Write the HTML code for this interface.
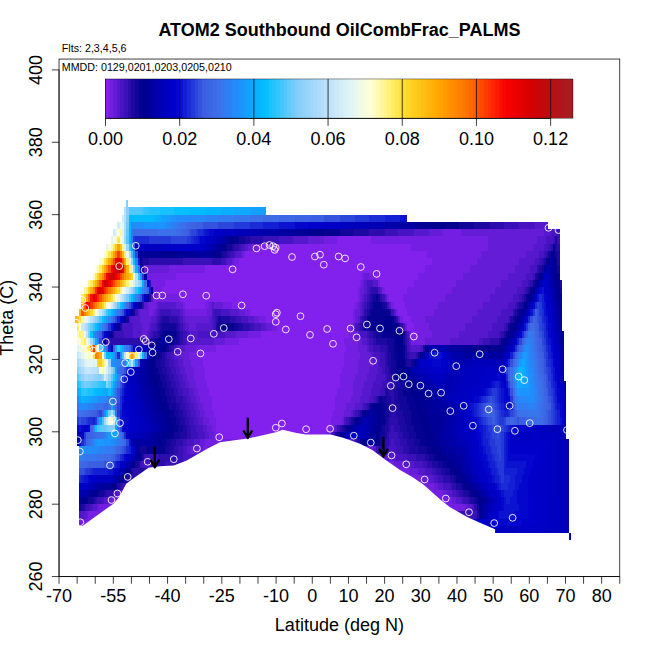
<!DOCTYPE html><html><head><meta charset="utf-8"><style>
html,body{margin:0;padding:0;background:#fff}
svg{display:block}
text{font-family:"Liberation Sans",sans-serif;fill:#000}
</style></head><body>
<svg width="650" height="650" viewBox="0 0 650 650">
<rect width="650" height="650" fill="#fff"/>
<g shape-rendering="crispEdges">
<path fill="#120599" d="M326.1 525.9H346.3V533.1H326.1ZM245.3 518.7H267.8V525.9H245.3ZM79.2 504.2H81.4V511.4H79.2ZM476.6 504.2H478.8V511.4H476.6ZM88.2 496.9H92.7V504.2H88.2ZM474.3 496.9H476.6V504.2H474.3ZM99.4 489.7H103.9V496.9H99.4ZM467.6 489.7H469.8V496.9H467.6ZM460.8 482.5H463.1V489.7H460.8ZM124.1 475.2H126.3V482.5H124.1ZM454.1 475.2H456.4V482.5H454.1ZM445.1 468.0H449.6V475.2H445.1ZM135.3 460.8H137.6V468.0H135.3ZM438.4 460.8H442.9V468.0H438.4ZM429.4 453.5H433.9V460.8H429.4ZM139.8 446.3H146.5V453.5H139.8ZM164.5 446.3H169.0V453.5H164.5ZM418.2 446.3H427.2V453.5H418.2ZM166.7 439.0H171.2V446.3H166.7ZM380.0 439.0H382.3V446.3H380.0ZM413.7 439.0H420.4V446.3H413.7ZM173.5 431.8H180.2V439.0H173.5ZM337.4 431.8H339.6V439.0H337.4ZM380.0 431.8H384.5V439.0H380.0ZM409.2 431.8H415.9V439.0H409.2ZM178.0 424.6H182.5V431.8H178.0ZM344.1 424.6H346.3V431.8H344.1ZM382.3 424.6H384.5V431.8H382.3ZM407.0 424.6H413.7V431.8H407.0ZM175.7 417.3H180.2V424.6H175.7ZM353.1 417.3H355.3V424.6H353.1ZM384.5 417.3H386.8V424.6H384.5ZM404.7 417.3H411.4V424.6H404.7ZM173.5 410.1H178.0V417.3H173.5ZM384.5 410.1H389.0V417.3H384.5ZM402.5 410.1H411.4V417.3H402.5ZM169.0 402.8H175.7V410.1H169.0ZM368.8 402.8H371.0V410.1H368.8ZM384.5 402.8H389.0V410.1H384.5ZM400.2 402.8H409.2V410.1H400.2ZM166.7 395.6H171.2V402.8H166.7ZM377.8 395.6H380.0V402.8H377.8ZM382.3 395.6H386.8V402.8H382.3ZM398.0 395.6H407.0V402.8H398.0ZM164.5 388.4H169.0V395.6H164.5ZM398.0 388.4H402.5V395.6H398.0ZM162.3 381.1H166.7V388.4H162.3ZM400.2 381.1H404.7V388.4H400.2ZM160.0 373.9H164.5V381.1H160.0ZM393.5 373.9H395.7V381.1H393.5ZM157.8 366.7H162.3V373.9H157.8ZM391.2 366.7H395.7V373.9H391.2ZM155.5 359.4H160.0V366.7H155.5ZM391.2 359.4H395.7V366.7H391.2ZM404.7 359.4H407.0V366.7H404.7ZM411.4 359.4H413.7V366.7H411.4ZM160.0 352.2H162.3V359.4H160.0ZM391.2 352.2H393.5V359.4H391.2ZM418.2 352.2H420.4V359.4H418.2ZM166.7 344.9H169.0V352.2H166.7ZM389.0 344.9H393.5V352.2H389.0ZM476.6 344.9H478.8V352.2H476.6ZM153.3 337.7H155.5V344.9H153.3ZM173.5 337.7H178.0V344.9H173.5ZM386.8 337.7H393.5V344.9H386.8ZM402.5 337.7H404.7V344.9H402.5ZM160.0 330.5H162.3V337.7H160.0ZM175.7 330.5H178.0V337.7H175.7ZM375.5 330.5H382.3V337.7H375.5ZM402.5 330.5H404.7V337.7H402.5ZM162.3 323.2H175.7V330.5H162.3ZM218.4 323.2H220.6V330.5H218.4ZM234.1 323.2H238.6V330.5H234.1ZM364.3 323.2H368.8V330.5H364.3ZM398.0 323.2H400.2V330.5H398.0ZM508.0 323.2H510.2V330.5H508.0ZM126.3 316.0H128.6V323.2H126.3ZM218.4 316.0H220.6V323.2H218.4ZM393.5 316.0H395.7V323.2H393.5ZM512.5 316.0H514.7V323.2H512.5ZM133.1 308.8H135.3V316.0H133.1ZM368.8 308.8H371.0V316.0H368.8ZM389.0 308.8H391.2V316.0H389.0ZM517.0 308.8H519.2V316.0H517.0ZM371.0 301.5H373.3V308.8H371.0ZM382.3 301.5H384.5V308.8H382.3ZM521.5 301.5H523.7V308.8H521.5ZM373.3 294.3H375.5V301.5H373.3ZM377.8 294.3H380.0V301.5H377.8ZM559.6 287.0H561.9V294.3H559.6ZM532.7 279.8H534.9V287.0H532.7ZM537.2 272.6H539.4V279.8H537.2ZM541.7 265.3H543.9V272.6H541.7ZM557.4 265.3H559.6V272.6H557.4ZM220.6 250.8H222.9V258.1H220.6ZM548.4 250.8H550.6V258.1H548.4ZM555.1 250.8H557.4V258.1H555.1ZM227.4 243.6H231.9V250.8H227.4ZM238.6 236.4H245.3V243.6H238.6ZM339.6 229.1H353.1V236.4H339.6ZM458.6 221.9H474.3V229.1H458.6Z"/>
<path fill="#060290" d="M346.3 525.9H366.6V533.1H346.3ZM267.8 518.7H292.5V525.9H267.8ZM478.8 511.4H481.0V518.7H478.8ZM85.9 496.9H88.2V504.2H85.9ZM476.6 496.9H478.8V504.2H476.6ZM97.2 489.7H99.4V496.9H97.2ZM469.8 489.7H474.3V496.9H469.8ZM115.1 482.5H117.4V489.7H115.1ZM463.1 482.5H467.6V489.7H463.1ZM121.8 475.2H124.1V482.5H121.8ZM456.4 475.2H460.8V482.5H456.4ZM128.6 468.0H130.8V475.2H128.6ZM449.6 468.0H454.1V475.2H449.6ZM442.9 460.8H447.4V468.0H442.9ZM139.8 453.5H142.1V460.8H139.8ZM433.9 453.5H438.4V460.8H433.9ZM137.6 446.3H139.8V453.5H137.6ZM146.5 446.3H164.5V453.5H146.5ZM427.2 446.3H431.7V453.5H427.2ZM162.3 439.0H166.7V446.3H162.3ZM359.8 439.0H362.1V446.3H359.8ZM375.5 439.0H380.0V446.3H375.5ZM420.4 439.0H427.2V446.3H420.4ZM169.0 431.8H173.5V439.0H169.0ZM377.8 431.8H380.0V439.0H377.8ZM415.9 431.8H424.9V439.0H415.9ZM173.5 424.6H178.0V431.8H173.5ZM346.3 424.6H348.6V431.8H346.3ZM380.0 424.6H382.3V431.8H380.0ZM413.7 424.6H422.7V431.8H413.7ZM171.2 417.3H175.7V424.6H171.2ZM380.0 417.3H384.5V424.6H380.0ZM411.4 417.3H420.4V424.6H411.4ZM169.0 410.1H173.5V417.3H169.0ZM362.1 410.1H364.3V417.3H362.1ZM382.3 410.1H384.5V417.3H382.3ZM411.4 410.1H418.2V417.3H411.4ZM164.5 402.8H169.0V410.1H164.5ZM371.0 402.8H373.3V410.1H371.0ZM380.0 402.8H384.5V410.1H380.0ZM409.2 402.8H415.9V410.1H409.2ZM162.3 395.6H166.7V402.8H162.3ZM380.0 395.6H382.3V402.8H380.0ZM407.0 395.6H413.7V402.8H407.0ZM160.0 388.4H164.5V395.6H160.0ZM402.5 388.4H411.4V395.6H402.5ZM157.8 381.1H162.3V388.4H157.8ZM404.7 381.1H409.2V388.4H404.7ZM155.5 373.9H160.0V381.1H155.5ZM395.7 373.9H400.2V381.1H395.7ZM153.3 366.7H157.8V373.9H153.3ZM395.7 366.7H398.0V373.9H395.7ZM404.7 366.7H407.0V373.9H404.7ZM153.3 359.4H155.5V366.7H153.3ZM395.7 359.4H398.0V366.7H395.7ZM157.8 352.2H160.0V359.4H157.8ZM393.5 352.2H398.0V359.4H393.5ZM402.5 352.2H404.7V359.4H402.5ZM164.5 344.9H166.7V352.2H164.5ZM393.5 344.9H398.0V352.2H393.5ZM402.5 344.9H404.7V352.2H402.5ZM424.9 344.9H427.2V352.2H424.9ZM478.8 344.9H485.5V352.2H478.8ZM490.0 344.9H499.0V352.2H490.0ZM103.9 337.7H106.1V344.9H103.9ZM155.5 337.7H157.8V344.9H155.5ZM171.2 337.7H173.5V344.9H171.2ZM393.5 337.7H395.7V344.9H393.5ZM501.2 337.7H503.5V344.9H501.2ZM110.6 330.5H112.9V337.7H110.6ZM162.3 330.5H164.5V337.7H162.3ZM171.2 330.5H175.7V337.7H171.2ZM382.3 330.5H395.7V337.7H382.3ZM400.2 330.5H402.5V337.7H400.2ZM505.7 330.5H508.0V337.7H505.7ZM220.6 323.2H222.9V330.5H220.6ZM227.4 323.2H234.1V330.5H227.4ZM368.8 323.2H380.0V330.5H368.8ZM510.2 323.2H512.5V330.5H510.2ZM366.6 316.0H384.5V323.2H366.6ZM514.7 316.0H517.0V323.2H514.7ZM371.0 308.8H389.0V316.0H371.0ZM519.2 308.8H521.5V316.0H519.2ZM139.8 301.5H142.1V308.8H139.8ZM373.3 301.5H382.3V308.8H373.3ZM559.6 301.5H561.9V308.8H559.6ZM375.5 294.3H377.8V301.5H375.5ZM525.9 294.3H528.2V301.5H525.9ZM559.6 294.3H561.9V301.5H559.6ZM530.4 287.0H532.7V294.3H530.4ZM534.9 279.8H537.2V287.0H534.9ZM557.4 279.8H559.6V287.0H557.4ZM557.4 272.6H559.6V279.8H557.4ZM555.1 265.3H557.4V272.6H555.1ZM546.2 258.1H548.4V265.3H546.2ZM555.1 258.1H557.4V265.3H555.1ZM216.1 250.8H220.6V258.1H216.1ZM225.1 243.6H227.4V250.8H225.1ZM552.9 243.6H555.1V250.8H552.9ZM234.1 236.4H238.6V243.6H234.1ZM323.9 229.1H339.6V236.4H323.9ZM445.1 221.9H458.6V229.1H445.1Z"/>
<path fill="#00008f" d="M366.6 525.9H389.0V533.1H366.6ZM292.5 518.7H314.9V525.9H292.5ZM478.8 504.2H481.0V511.4H478.8ZM81.4 496.9H85.9V504.2H81.4ZM478.8 496.9H483.3V504.2H478.8ZM92.7 489.7H97.2V496.9H92.7ZM474.3 489.7H476.6V496.9H474.3ZM110.6 482.5H115.1V489.7H110.6ZM467.6 482.5H469.8V489.7H467.6ZM119.6 475.2H121.8V482.5H119.6ZM460.8 475.2H463.1V482.5H460.8ZM126.3 468.0H128.6V475.2H126.3ZM454.1 468.0H458.6V475.2H454.1ZM133.1 460.8H135.3V468.0H133.1ZM447.4 460.8H454.1V468.0H447.4ZM438.4 453.5H447.4V460.8H438.4ZM431.7 446.3H440.6V453.5H431.7ZM157.8 439.0H162.3V446.3H157.8ZM362.1 439.0H364.3V446.3H362.1ZM373.3 439.0H375.5V446.3H373.3ZM427.2 439.0H433.9V446.3H427.2ZM162.3 431.8H169.0V439.0H162.3ZM339.6 431.8H341.9V439.0H339.6ZM375.5 431.8H377.8V439.0H375.5ZM424.9 431.8H433.9V439.0H424.9ZM169.0 424.6H173.5V431.8H169.0ZM375.5 424.6H380.0V431.8H375.5ZM422.7 424.6H431.7V431.8H422.7ZM166.7 417.3H171.2V424.6H166.7ZM355.3 417.3H357.6V424.6H355.3ZM377.8 417.3H380.0V424.6H377.8ZM420.4 417.3H429.4V424.6H420.4ZM164.5 410.1H169.0V417.3H164.5ZM364.3 410.1H366.6V417.3H364.3ZM377.8 410.1H382.3V417.3H377.8ZM418.2 410.1H427.2V417.3H418.2ZM160.0 402.8H164.5V410.1H160.0ZM373.3 402.8H380.0V410.1H373.3ZM415.9 402.8H424.9V410.1H415.9ZM157.8 395.6H162.3V402.8H157.8ZM413.7 395.6H422.7V402.8H413.7ZM155.5 388.4H160.0V395.6H155.5ZM411.4 388.4H420.4V395.6H411.4ZM153.3 381.1H157.8V388.4H153.3ZM409.2 381.1H413.7V388.4H409.2ZM151.0 373.9H155.5V381.1H151.0ZM400.2 373.9H404.7V381.1H400.2ZM148.8 366.7H153.3V373.9H148.8ZM398.0 366.7H404.7V373.9H398.0ZM407.0 366.7H409.2V373.9H407.0ZM148.8 359.4H153.3V366.7H148.8ZM398.0 359.4H404.7V366.7H398.0ZM413.7 359.4H415.9V366.7H413.7ZM155.5 352.2H157.8V359.4H155.5ZM398.0 352.2H402.5V359.4H398.0ZM162.3 344.9H164.5V352.2H162.3ZM398.0 344.9H402.5V352.2H398.0ZM474.3 344.9H476.6V352.2H474.3ZM485.5 344.9H490.0V352.2H485.5ZM499.0 344.9H501.2V352.2H499.0ZM157.8 337.7H160.0V344.9H157.8ZM169.0 337.7H171.2V344.9H169.0ZM395.7 337.7H402.5V344.9H395.7ZM503.5 337.7H505.7V344.9H503.5ZM561.9 337.7H564.1V344.9H561.9ZM164.5 330.5H171.2V337.7H164.5ZM395.7 330.5H400.2V337.7H395.7ZM508.0 330.5H510.2V337.7H508.0ZM561.9 330.5H564.1V337.7H561.9ZM117.4 323.2H119.6V330.5H117.4ZM222.9 323.2H227.4V330.5H222.9ZM380.0 323.2H398.0V330.5H380.0ZM512.5 323.2H514.7V330.5H512.5ZM384.5 316.0H393.5V323.2H384.5ZM517.0 316.0H519.2V323.2H517.0ZM559.6 308.8H561.9V316.0H559.6ZM523.7 301.5H525.9V308.8H523.7ZM528.2 294.3H530.4V301.5H528.2ZM557.4 294.3H559.6V301.5H557.4ZM532.7 287.0H534.9V294.3H532.7ZM557.4 287.0H559.6V294.3H557.4ZM539.4 272.6H541.7V279.8H539.4ZM555.1 272.6H557.4V279.8H555.1ZM139.8 258.1H142.1V265.3H139.8ZM552.9 258.1H555.1V265.3H552.9ZM162.3 250.8H178.0V258.1H162.3ZM213.9 250.8H216.1V258.1H213.9ZM552.9 250.8H555.1V258.1H552.9ZM222.9 243.6H225.1V250.8H222.9ZM229.6 236.4H234.1V243.6H229.6ZM308.2 229.1H323.9V236.4H308.2ZM429.4 221.9H445.1V229.1H429.4Z"/>
<path fill="#000098" d="M389.0 525.9H409.2V533.1H389.0ZM314.9 518.7H339.6V525.9H314.9ZM481.0 511.4H483.3V518.7H481.0ZM481.0 504.2H483.3V511.4H481.0ZM79.2 496.9H81.4V504.2H79.2ZM483.3 496.9H485.5V504.2H483.3ZM90.4 489.7H92.7V496.9H90.4ZM476.6 489.7H478.8V496.9H476.6ZM101.6 482.5H110.6V489.7H101.6ZM469.8 482.5H474.3V489.7H469.8ZM463.1 475.2H467.6V482.5H463.1ZM458.6 468.0H460.8V475.2H458.6ZM130.8 460.8H133.1V468.0H130.8ZM454.1 460.8H460.8V468.0H454.1ZM137.6 453.5H139.8V460.8H137.6ZM447.4 453.5H456.4V460.8H447.4ZM440.6 446.3H447.4V453.5H440.6ZM133.1 439.0H135.3V446.3H133.1ZM153.3 439.0H157.8V446.3H153.3ZM364.3 439.0H366.6V446.3H364.3ZM371.0 439.0H373.3V446.3H371.0ZM433.9 439.0H440.6V446.3H433.9ZM155.5 431.8H162.3V439.0H155.5ZM341.9 431.8H344.1V439.0H341.9ZM371.0 431.8H375.5V439.0H371.0ZM433.9 431.8H440.6V439.0H433.9ZM164.5 424.6H169.0V431.8H164.5ZM348.6 424.6H350.8V431.8H348.6ZM373.3 424.6H375.5V431.8H373.3ZM431.7 424.6H440.6V431.8H431.7ZM162.3 417.3H166.7V424.6H162.3ZM357.6 417.3H359.8V424.6H357.6ZM375.5 417.3H377.8V424.6H375.5ZM429.4 417.3H442.9V424.6H429.4ZM157.8 410.1H164.5V417.3H157.8ZM366.6 410.1H368.8V417.3H366.6ZM373.3 410.1H377.8V417.3H373.3ZM427.2 410.1H438.4V417.3H427.2ZM155.5 402.8H160.0V410.1H155.5ZM424.9 402.8H433.9V410.1H424.9ZM153.3 395.6H157.8V402.8H153.3ZM422.7 395.6H431.7V402.8H422.7ZM151.0 388.4H155.5V395.6H151.0ZM420.4 388.4H427.2V395.6H420.4ZM148.8 381.1H153.3V388.4H148.8ZM413.7 381.1H420.4V388.4H413.7ZM146.5 373.9H151.0V381.1H146.5ZM404.7 373.9H409.2V381.1H404.7ZM146.5 366.7H148.8V373.9H146.5ZM146.5 359.4H148.8V366.7H146.5ZM153.3 352.2H155.5V359.4H153.3ZM420.4 352.2H422.7V359.4H420.4ZM160.0 344.9H162.3V352.2H160.0ZM427.2 344.9H429.4V352.2H427.2ZM463.1 344.9H474.3V352.2H463.1ZM501.2 344.9H503.5V352.2H501.2ZM561.9 344.9H564.1V352.2H561.9ZM160.0 337.7H162.3V344.9H160.0ZM166.7 337.7H169.0V344.9H166.7ZM505.7 337.7H508.0V344.9H505.7ZM510.2 330.5H512.5V337.7H510.2ZM514.7 323.2H517.0V330.5H514.7ZM124.1 316.0H126.3V323.2H124.1ZM559.6 316.0H561.9V323.2H559.6ZM521.5 308.8H523.7V316.0H521.5ZM525.9 301.5H528.2V308.8H525.9ZM557.4 301.5H559.6V308.8H557.4ZM146.5 294.3H148.8V301.5H146.5ZM530.4 294.3H532.7V301.5H530.4ZM151.0 287.0H153.3V294.3H151.0ZM555.1 287.0H557.4V294.3H555.1ZM537.2 279.8H539.4V287.0H537.2ZM555.1 279.8H557.4V287.0H555.1ZM552.9 272.6H555.1V279.8H552.9ZM543.9 265.3H546.2V272.6H543.9ZM552.9 265.3H555.1V272.6H552.9ZM139.8 250.8H162.3V258.1H139.8ZM178.0 250.8H198.2V258.1H178.0ZM209.4 250.8H213.9V258.1H209.4ZM550.6 250.8H552.9V258.1H550.6ZM218.4 243.6H222.9V250.8H218.4ZM227.4 236.4H229.6V243.6H227.4ZM292.5 229.1H308.2V236.4H292.5ZM413.7 221.9H429.4V229.1H413.7Z"/>
<path fill="#0000a1" d="M409.2 525.9H431.7V533.1H409.2ZM339.6 518.7H362.1V525.9H339.6ZM485.5 496.9H487.8V504.2H485.5ZM88.2 489.7H90.4V496.9H88.2ZM478.8 489.7H483.3V496.9H478.8ZM99.4 482.5H101.6V489.7H99.4ZM474.3 482.5H476.6V489.7H474.3ZM117.4 475.2H119.6V482.5H117.4ZM467.6 475.2H469.8V482.5H467.6ZM124.1 468.0H126.3V475.2H124.1ZM460.8 468.0H465.3V475.2H460.8ZM460.8 460.8H463.1V468.0H460.8ZM135.3 453.5H137.6V460.8H135.3ZM456.4 453.5H463.1V460.8H456.4ZM447.4 446.3H456.4V453.5H447.4ZM135.3 439.0H153.3V446.3H135.3ZM366.6 439.0H371.0V446.3H366.6ZM440.6 439.0H449.6V446.3H440.6ZM151.0 431.8H155.5V439.0H151.0ZM368.8 431.8H371.0V439.0H368.8ZM440.6 431.8H445.1V439.0H440.6ZM160.0 424.6H164.5V431.8H160.0ZM350.8 424.6H353.1V431.8H350.8ZM371.0 424.6H373.3V431.8H371.0ZM440.6 424.6H447.4V431.8H440.6ZM157.8 417.3H162.3V424.6H157.8ZM359.8 417.3H362.1V424.6H359.8ZM371.0 417.3H375.5V424.6H371.0ZM442.9 417.3H447.4V424.6H442.9ZM153.3 410.1H157.8V417.3H153.3ZM368.8 410.1H373.3V417.3H368.8ZM438.4 410.1H449.6V417.3H438.4ZM151.0 402.8H155.5V410.1H151.0ZM433.9 402.8H447.4V410.1H433.9ZM148.8 395.6H153.3V402.8H148.8ZM431.7 395.6H440.6V402.8H431.7ZM146.5 388.4H151.0V395.6H146.5ZM427.2 388.4H433.9V395.6H427.2ZM144.3 381.1H148.8V388.4H144.3ZM420.4 381.1H424.9V388.4H420.4ZM564.1 381.1H566.4V388.4H564.1ZM144.3 373.9H146.5V381.1H144.3ZM409.2 373.9H415.9V381.1H409.2ZM142.1 366.7H146.5V373.9H142.1ZM409.2 366.7H411.4V373.9H409.2ZM144.3 359.4H146.5V366.7H144.3ZM151.0 352.2H153.3V359.4H151.0ZM463.1 352.2H472.1V359.4H463.1ZM490.0 352.2H501.2V359.4H490.0ZM561.9 352.2H564.1V359.4H561.9ZM151.0 344.9H160.0V352.2H151.0ZM449.6 344.9H463.1V352.2H449.6ZM503.5 344.9H505.7V352.2H503.5ZM162.3 337.7H166.7V344.9H162.3ZM508.0 337.7H510.2V344.9H508.0ZM512.5 330.5H514.7V337.7H512.5ZM559.6 330.5H561.9V337.7H559.6ZM559.6 323.2H561.9V330.5H559.6ZM519.2 316.0H521.5V323.2H519.2ZM557.4 316.0H559.6V323.2H557.4ZM130.8 308.8H133.1V316.0H130.8ZM523.7 308.8H525.9V316.0H523.7ZM557.4 308.8H559.6V316.0H557.4ZM137.6 301.5H139.8V308.8H137.6ZM555.1 294.3H557.4V301.5H555.1ZM552.9 279.8H555.1V287.0H552.9ZM144.3 272.6H146.5V279.8H144.3ZM550.6 265.3H552.9V272.6H550.6ZM548.4 258.1H552.9V265.3H548.4ZM137.6 250.8H139.8V258.1H137.6ZM198.2 250.8H209.4V258.1H198.2ZM216.1 243.6H218.4V250.8H216.1ZM222.9 236.4H227.4V243.6H222.9ZM279.0 229.1H292.5V236.4H279.0ZM400.2 221.9H413.7V229.1H400.2Z"/>
<path fill="#0000a9" d="M431.7 525.9H451.9V533.1H431.7ZM362.1 518.7H384.5V525.9H362.1ZM483.3 511.4H485.5V518.7H483.3ZM483.3 504.2H487.8V511.4H483.3ZM487.8 496.9H490.0V504.2H487.8ZM83.7 489.7H88.2V496.9H83.7ZM483.3 489.7H485.5V496.9H483.3ZM94.9 482.5H99.4V489.7H94.9ZM476.6 482.5H478.8V489.7H476.6ZM115.1 475.2H117.4V482.5H115.1ZM469.8 475.2H472.1V482.5H469.8ZM121.8 468.0H124.1V475.2H121.8ZM465.3 468.0H469.8V475.2H465.3ZM128.6 460.8H130.8V468.0H128.6ZM463.1 460.8H467.6V468.0H463.1ZM463.1 453.5H465.3V460.8H463.1ZM135.3 446.3H137.6V453.5H135.3ZM456.4 446.3H465.3V453.5H456.4ZM449.6 439.0H456.4V446.3H449.6ZM146.5 431.8H151.0V439.0H146.5ZM344.1 431.8H346.3V439.0H344.1ZM366.6 431.8H368.8V439.0H366.6ZM445.1 431.8H449.6V439.0H445.1ZM155.5 424.6H160.0V431.8H155.5ZM353.1 424.6H355.3V431.8H353.1ZM366.6 424.6H371.0V431.8H366.6ZM447.4 424.6H451.9V431.8H447.4ZM151.0 417.3H157.8V424.6H151.0ZM362.1 417.3H364.3V424.6H362.1ZM366.6 417.3H371.0V424.6H366.6ZM447.4 417.3H454.1V424.6H447.4ZM148.8 410.1H153.3V417.3H148.8ZM449.6 410.1H454.1V417.3H449.6ZM146.5 402.8H151.0V410.1H146.5ZM447.4 402.8H451.9V410.1H447.4ZM144.3 395.6H148.8V402.8H144.3ZM440.6 395.6H445.1V402.8H440.6ZM142.1 388.4H146.5V395.6H142.1ZM433.9 388.4H440.6V395.6H433.9ZM564.1 388.4H566.4V395.6H564.1ZM139.8 381.1H144.3V388.4H139.8ZM424.9 381.1H431.7V388.4H424.9ZM139.8 373.9H144.3V381.1H139.8ZM415.9 373.9H420.4V381.1H415.9ZM137.6 366.7H142.1V373.9H137.6ZM561.9 366.7H564.1V373.9H561.9ZM142.1 359.4H144.3V366.7H142.1ZM415.9 359.4H418.2V366.7H415.9ZM561.9 359.4H564.1V366.7H561.9ZM148.8 352.2H151.0V359.4H148.8ZM422.7 352.2H424.9V359.4H422.7ZM451.9 352.2H463.1V359.4H451.9ZM472.1 352.2H490.0V359.4H472.1ZM501.2 352.2H503.5V359.4H501.2ZM148.8 344.9H151.0V352.2H148.8ZM445.1 344.9H449.6V352.2H445.1ZM505.7 344.9H508.0V352.2H505.7ZM559.6 337.7H561.9V344.9H559.6ZM108.4 330.5H110.6V337.7H108.4ZM115.1 323.2H117.4V330.5H115.1ZM517.0 323.2H519.2V330.5H517.0ZM557.4 323.2H559.6V330.5H557.4ZM521.5 316.0H523.7V323.2H521.5ZM555.1 308.8H557.4V316.0H555.1ZM528.2 301.5H530.4V308.8H528.2ZM555.1 301.5H557.4V308.8H555.1ZM552.9 294.3H555.1V301.5H552.9ZM534.9 287.0H537.2V294.3H534.9ZM552.9 287.0H555.1V294.3H552.9ZM550.6 279.8H552.9V287.0H550.6ZM541.7 272.6H543.9V279.8H541.7ZM550.6 272.6H552.9V279.8H550.6ZM211.6 243.6H216.1V250.8H211.6ZM220.6 236.4H222.9V243.6H220.6ZM263.3 229.1H279.0V236.4H263.3ZM384.5 221.9H400.2V229.1H384.5Z"/>
<path fill="#0000b2" d="M451.9 525.9H474.3V533.1H451.9ZM384.5 518.7H409.2V525.9H384.5ZM485.5 511.4H487.8V518.7H485.5ZM487.8 504.2H490.0V511.4H487.8ZM490.0 496.9H492.3V504.2H490.0ZM81.4 489.7H83.7V496.9H81.4ZM485.5 489.7H487.8V496.9H485.5ZM92.7 482.5H94.9V489.7H92.7ZM478.8 482.5H483.3V489.7H478.8ZM112.9 475.2H115.1V482.5H112.9ZM472.1 475.2H476.6V482.5H472.1ZM469.8 468.0H472.1V475.2H469.8ZM126.3 460.8H128.6V468.0H126.3ZM467.6 460.8H469.8V468.0H467.6ZM133.1 453.5H135.3V460.8H133.1ZM465.3 453.5H467.6V460.8H465.3ZM465.3 446.3H467.6V453.5H465.3ZM76.9 439.0H79.2V446.3H76.9ZM456.4 439.0H465.3V446.3H456.4ZM79.2 431.8H81.4V439.0H79.2ZM142.1 431.8H146.5V439.0H142.1ZM346.3 431.8H348.6V439.0H346.3ZM362.1 431.8H366.6V439.0H362.1ZM449.6 431.8H458.6V439.0H449.6ZM148.8 424.6H155.5V431.8H148.8ZM355.3 424.6H357.6V431.8H355.3ZM364.3 424.6H366.6V431.8H364.3ZM451.9 424.6H456.4V431.8H451.9ZM146.5 417.3H151.0V424.6H146.5ZM364.3 417.3H366.6V424.6H364.3ZM454.1 417.3H458.6V424.6H454.1ZM144.3 410.1H148.8V417.3H144.3ZM454.1 410.1H458.6V417.3H454.1ZM142.1 402.8H146.5V410.1H142.1ZM451.9 402.8H456.4V410.1H451.9ZM564.1 402.8H566.4V410.1H564.1ZM139.8 395.6H144.3V402.8H139.8ZM445.1 395.6H449.6V402.8H445.1ZM564.1 395.6H566.4V402.8H564.1ZM137.6 388.4H142.1V395.6H137.6ZM440.6 388.4H449.6V395.6H440.6ZM137.6 381.1H139.8V388.4H137.6ZM431.7 381.1H436.1V388.4H431.7ZM442.9 381.1H451.9V388.4H442.9ZM135.3 373.9H139.8V381.1H135.3ZM420.4 373.9H427.2V381.1H420.4ZM447.4 373.9H454.1V381.1H447.4ZM561.9 373.9H564.1V381.1H561.9ZM135.3 366.7H137.6V373.9H135.3ZM411.4 366.7H418.2V373.9H411.4ZM139.8 359.4H142.1V366.7H139.8ZM454.1 359.4H472.1V366.7H454.1ZM449.6 352.2H451.9V359.4H449.6ZM503.5 352.2H505.7V359.4H503.5ZM559.6 352.2H561.9V359.4H559.6ZM110.6 344.9H112.9V352.2H110.6ZM146.5 344.9H148.8V352.2H146.5ZM429.4 344.9H445.1V352.2H429.4ZM559.6 344.9H561.9V352.2H559.6ZM510.2 337.7H512.5V344.9H510.2ZM557.4 337.7H559.6V344.9H557.4ZM514.7 330.5H517.0V337.7H514.7ZM557.4 330.5H559.6V337.7H557.4ZM519.2 323.2H521.5V330.5H519.2ZM555.1 323.2H557.4V330.5H555.1ZM121.8 316.0H124.1V323.2H121.8ZM555.1 316.0H557.4V323.2H555.1ZM525.9 308.8H528.2V316.0H525.9ZM552.9 301.5H555.1V308.8H552.9ZM532.7 294.3H534.9V301.5H532.7ZM550.6 287.0H552.9V294.3H550.6ZM539.4 279.8H541.7V287.0H539.4ZM548.4 272.6H550.6V279.8H548.4ZM546.2 265.3H550.6V272.6H546.2ZM209.4 243.6H211.6V250.8H209.4ZM216.1 236.4H220.6V243.6H216.1ZM247.6 229.1H263.3V236.4H247.6ZM368.8 221.9H384.5V229.1H368.8Z"/>
<path fill="#0000ba" d="M474.3 525.9H494.5V533.1H474.3ZM559.6 525.9H568.6V533.1H559.6ZM409.2 518.7H431.7V525.9H409.2ZM559.6 518.7H568.6V525.9H559.6ZM559.6 511.4H568.6V518.7H559.6ZM490.0 504.2H492.3V511.4H490.0ZM559.6 504.2H568.6V511.4H559.6ZM492.3 496.9H494.5V504.2H492.3ZM559.6 496.9H568.6V504.2H559.6ZM79.2 489.7H81.4V496.9H79.2ZM487.8 489.7H490.0V496.9H487.8ZM557.4 489.7H568.6V496.9H557.4ZM88.2 482.5H92.7V489.7H88.2ZM483.3 482.5H485.5V489.7H483.3ZM557.4 482.5H568.6V489.7H557.4ZM110.6 475.2H112.9V482.5H110.6ZM476.6 475.2H478.8V482.5H476.6ZM557.4 475.2H568.6V482.5H557.4ZM119.6 468.0H121.8V475.2H119.6ZM472.1 468.0H476.6V475.2H472.1ZM557.4 468.0H568.6V475.2H557.4ZM124.1 460.8H126.3V468.0H124.1ZM469.8 460.8H474.3V468.0H469.8ZM557.4 460.8H568.6V468.0H557.4ZM130.8 453.5H133.1V460.8H130.8ZM467.6 453.5H472.1V460.8H467.6ZM557.4 453.5H568.6V460.8H557.4ZM467.6 446.3H469.8V453.5H467.6ZM557.4 446.3H568.6V453.5H557.4ZM130.8 439.0H133.1V446.3H130.8ZM465.3 439.0H469.8V446.3H465.3ZM557.4 439.0H568.6V446.3H557.4ZM76.9 431.8H79.2V439.0H76.9ZM81.4 431.8H83.7V439.0H81.4ZM128.6 431.8H142.1V439.0H128.6ZM348.6 431.8H350.8V439.0H348.6ZM359.8 431.8H362.1V439.0H359.8ZM458.6 431.8H465.3V439.0H458.6ZM557.4 431.8H566.4V439.0H557.4ZM142.1 424.6H148.8V431.8H142.1ZM357.6 424.6H364.3V431.8H357.6ZM456.4 424.6H463.1V431.8H456.4ZM546.2 424.6H566.4V431.8H546.2ZM142.1 417.3H146.5V424.6H142.1ZM458.6 417.3H463.1V424.6H458.6ZM139.8 410.1H144.3V417.3H139.8ZM458.6 410.1H463.1V417.3H458.6ZM564.1 410.1H566.4V417.3H564.1ZM137.6 402.8H142.1V410.1H137.6ZM456.4 402.8H460.8V410.1H456.4ZM135.3 395.6H139.8V402.8H135.3ZM449.6 395.6H456.4V402.8H449.6ZM133.1 388.4H137.6V395.6H133.1ZM449.6 388.4H458.6V395.6H449.6ZM133.1 381.1H137.6V388.4H133.1ZM436.1 381.1H442.9V388.4H436.1ZM451.9 381.1H460.8V388.4H451.9ZM561.9 381.1H564.1V388.4H561.9ZM130.8 373.9H135.3V381.1H130.8ZM427.2 373.9H431.7V381.1H427.2ZM442.9 373.9H447.4V381.1H442.9ZM454.1 373.9H465.3V381.1H454.1ZM133.1 366.7H135.3V373.9H133.1ZM418.2 366.7H422.7V373.9H418.2ZM449.6 366.7H469.8V373.9H449.6ZM559.6 366.7H561.9V373.9H559.6ZM418.2 359.4H420.4V366.7H418.2ZM451.9 359.4H454.1V366.7H451.9ZM472.1 359.4H503.5V366.7H472.1ZM559.6 359.4H561.9V366.7H559.6ZM424.9 352.2H427.2V359.4H424.9ZM447.4 352.2H449.6V359.4H447.4ZM508.0 344.9H510.2V352.2H508.0ZM557.4 344.9H559.6V352.2H557.4ZM512.5 337.7H514.7V344.9H512.5ZM555.1 330.5H557.4V337.7H555.1ZM552.9 316.0H555.1V323.2H552.9ZM128.6 308.8H130.8V316.0H128.6ZM552.9 308.8H555.1V316.0H552.9ZM550.6 301.5H552.9V308.8H550.6ZM550.6 294.3H552.9V301.5H550.6ZM548.4 279.8H550.6V287.0H548.4ZM139.8 243.6H142.1V250.8H139.8ZM204.9 243.6H209.4V250.8H204.9ZM213.9 236.4H216.1V243.6H213.9ZM234.1 229.1H247.6V236.4H234.1ZM353.1 221.9H368.8V229.1H353.1Z"/>
<path fill="#0000c0" d="M494.5 525.9H517.0V533.1H494.5ZM546.2 525.9H559.6V533.1H546.2ZM431.7 518.7H456.4V525.9H431.7ZM548.4 518.7H559.6V525.9H548.4ZM487.8 511.4H490.0V518.7H487.8ZM548.4 511.4H559.6V518.7H548.4ZM492.3 504.2H494.5V511.4H492.3ZM548.4 504.2H559.6V511.4H548.4ZM494.5 496.9H496.8V504.2H494.5ZM548.4 496.9H559.6V504.2H548.4ZM490.0 489.7H492.3V496.9H490.0ZM548.4 489.7H557.4V496.9H548.4ZM85.9 482.5H88.2V489.7H85.9ZM485.5 482.5H487.8V489.7H485.5ZM548.4 482.5H557.4V489.7H548.4ZM97.2 475.2H110.6V482.5H97.2ZM478.8 475.2H481.0V482.5H478.8ZM548.4 475.2H557.4V482.5H548.4ZM117.4 468.0H119.6V475.2H117.4ZM476.6 468.0H478.8V475.2H476.6ZM548.4 468.0H557.4V475.2H548.4ZM474.3 460.8H476.6V468.0H474.3ZM548.4 460.8H557.4V468.0H548.4ZM472.1 453.5H474.3V460.8H472.1ZM548.4 453.5H557.4V460.8H548.4ZM469.8 446.3H474.3V453.5H469.8ZM548.4 446.3H557.4V453.5H548.4ZM469.8 439.0H472.1V446.3H469.8ZM550.6 439.0H557.4V446.3H550.6ZM357.6 431.8H359.8V439.0H357.6ZM465.3 431.8H472.1V439.0H465.3ZM512.5 431.8H532.7V439.0H512.5ZM539.4 431.8H557.4V439.0H539.4ZM137.6 424.6H142.1V431.8H137.6ZM463.1 424.6H467.6V431.8H463.1ZM530.4 424.6H546.2V431.8H530.4ZM137.6 417.3H142.1V424.6H137.6ZM463.1 417.3H467.6V424.6H463.1ZM564.1 417.3H566.4V424.6H564.1ZM135.3 410.1H139.8V417.3H135.3ZM463.1 410.1H465.3V417.3H463.1ZM133.1 402.8H137.6V410.1H133.1ZM460.8 402.8H463.1V410.1H460.8ZM130.8 395.6H135.3V402.8H130.8ZM456.4 395.6H467.6V402.8H456.4ZM561.9 395.6H564.1V402.8H561.9ZM130.8 388.4H133.1V395.6H130.8ZM458.6 388.4H472.1V395.6H458.6ZM561.9 388.4H564.1V395.6H561.9ZM128.6 381.1H133.1V388.4H128.6ZM460.8 381.1H476.6V388.4H460.8ZM128.6 373.9H130.8V381.1H128.6ZM431.7 373.9H442.9V381.1H431.7ZM465.3 373.9H481.0V381.1H465.3ZM559.6 373.9H561.9V381.1H559.6ZM422.7 366.7H429.4V373.9H422.7ZM445.1 366.7H449.6V373.9H445.1ZM469.8 366.7H485.5V373.9H469.8ZM449.6 359.4H451.9V366.7H449.6ZM557.4 359.4H559.6V366.7H557.4ZM505.7 352.2H508.0V359.4H505.7ZM557.4 352.2H559.6V359.4H557.4ZM144.3 344.9H146.5V352.2H144.3ZM510.2 344.9H512.5V352.2H510.2ZM555.1 344.9H557.4V352.2H555.1ZM101.6 337.7H103.9V344.9H101.6ZM555.1 337.7H557.4V344.9H555.1ZM106.1 330.5H108.4V337.7H106.1ZM517.0 330.5H519.2V337.7H517.0ZM552.9 323.2H555.1V330.5H552.9ZM523.7 316.0H525.9V323.2H523.7ZM550.6 308.8H552.9V316.0H550.6ZM135.3 301.5H137.6V308.8H135.3ZM530.4 301.5H532.7V308.8H530.4ZM144.3 294.3H146.5V301.5H144.3ZM548.4 294.3H550.6V301.5H548.4ZM537.2 287.0H539.4V294.3H537.2ZM548.4 287.0H550.6V294.3H548.4ZM546.2 279.8H548.4V287.0H546.2ZM543.9 272.6H548.4V279.8H543.9ZM135.3 243.6H139.8V250.8H135.3ZM142.1 243.6H164.5V250.8H142.1ZM202.7 243.6H204.9V250.8H202.7ZM209.4 236.4H213.9V243.6H209.4ZM222.9 229.1H234.1V236.4H222.9ZM339.6 221.9H353.1V229.1H339.6Z"/>
<path fill="#0000c6" d="M517.0 525.9H546.2V533.1H517.0ZM456.4 518.7H478.8V525.9H456.4ZM537.2 518.7H548.4V525.9H537.2ZM490.0 511.4H494.5V518.7H490.0ZM539.4 511.4H548.4V518.7H539.4ZM494.5 504.2H499.0V511.4H494.5ZM539.4 504.2H548.4V511.4H539.4ZM496.8 496.9H499.0V504.2H496.8ZM539.4 496.9H548.4V504.2H539.4ZM492.3 489.7H496.8V496.9H492.3ZM537.2 489.7H548.4V496.9H537.2ZM83.7 482.5H85.9V489.7H83.7ZM487.8 482.5H492.3V489.7H487.8ZM537.2 482.5H548.4V489.7H537.2ZM94.9 475.2H97.2V482.5H94.9ZM481.0 475.2H485.5V482.5H481.0ZM537.2 475.2H548.4V482.5H537.2ZM115.1 468.0H117.4V475.2H115.1ZM478.8 468.0H483.3V475.2H478.8ZM537.2 468.0H548.4V475.2H537.2ZM121.8 460.8H124.1V468.0H121.8ZM476.6 460.8H481.0V468.0H476.6ZM539.4 460.8H548.4V468.0H539.4ZM128.6 453.5H130.8V460.8H128.6ZM474.3 453.5H478.8V460.8H474.3ZM541.7 453.5H548.4V460.8H541.7ZM474.3 446.3H476.6V453.5H474.3ZM541.7 446.3H548.4V453.5H541.7ZM472.1 439.0H474.3V446.3H472.1ZM512.5 439.0H530.4V446.3H512.5ZM532.7 439.0H550.6V446.3H532.7ZM126.3 431.8H128.6V439.0H126.3ZM350.8 431.8H357.6V439.0H350.8ZM472.1 431.8H474.3V439.0H472.1ZM532.7 431.8H539.4V439.0H532.7ZM130.8 424.6H137.6V431.8H130.8ZM467.6 424.6H474.3V431.8H467.6ZM525.9 424.6H530.4V431.8H525.9ZM133.1 417.3H137.6V424.6H133.1ZM467.6 417.3H472.1V424.6H467.6ZM130.8 410.1H135.3V417.3H130.8ZM465.3 410.1H467.6V417.3H465.3ZM128.6 402.8H133.1V410.1H128.6ZM463.1 402.8H465.3V410.1H463.1ZM561.9 402.8H564.1V410.1H561.9ZM128.6 395.6H130.8V402.8H128.6ZM467.6 395.6H472.1V402.8H467.6ZM126.3 388.4H130.8V395.6H126.3ZM472.1 388.4H481.0V395.6H472.1ZM559.6 388.4H561.9V395.6H559.6ZM126.3 381.1H128.6V388.4H126.3ZM476.6 381.1H487.8V388.4H476.6ZM559.6 381.1H561.9V388.4H559.6ZM481.0 373.9H494.5V381.1H481.0ZM557.4 373.9H559.6V381.1H557.4ZM429.4 366.7H433.9V373.9H429.4ZM440.6 366.7H445.1V373.9H440.6ZM485.5 366.7H501.2V373.9H485.5ZM557.4 366.7H559.6V373.9H557.4ZM420.4 359.4H424.9V366.7H420.4ZM445.1 359.4H449.6V366.7H445.1ZM503.5 359.4H505.7V366.7H503.5ZM445.1 352.2H447.4V359.4H445.1ZM555.1 352.2H557.4V359.4H555.1ZM142.1 344.9H144.3V352.2H142.1ZM552.9 337.7H555.1V344.9H552.9ZM552.9 330.5H555.1V337.7H552.9ZM112.9 323.2H115.1V330.5H112.9ZM521.5 323.2H523.7V330.5H521.5ZM550.6 323.2H552.9V330.5H550.6ZM119.6 316.0H121.8V323.2H119.6ZM550.6 316.0H552.9V323.2H550.6ZM528.2 308.8H530.4V316.0H528.2ZM548.4 308.8H550.6V316.0H548.4ZM548.4 301.5H550.6V308.8H548.4ZM534.9 294.3H537.2V301.5H534.9ZM546.2 287.0H548.4V294.3H546.2ZM146.5 279.8H148.8V287.0H146.5ZM541.7 279.8H543.9V287.0H541.7ZM164.5 243.6H184.7V250.8H164.5ZM198.2 243.6H202.7V250.8H198.2ZM207.2 236.4H209.4V243.6H207.2ZM218.4 229.1H222.9V236.4H218.4ZM323.9 221.9H339.6V229.1H323.9Z"/>
<path fill="#731ee2" d="M79.2 518.7H103.9V525.9H79.2ZM88.2 511.4H382.3V518.7H88.2ZM99.4 504.2H465.3V511.4H99.4ZM110.6 496.9H451.9V504.2H110.6ZM310.4 489.7H442.9V496.9H310.4ZM371.0 482.5H433.9V489.7H371.0ZM337.4 475.2H422.7V482.5H337.4ZM303.7 468.0H409.2V475.2H303.7ZM270.0 460.8H393.5V468.0H270.0ZM236.3 453.5H380.0V460.8H236.3ZM202.7 446.3H332.9V453.5H202.7ZM355.3 446.3H364.3V453.5H355.3ZM204.9 439.0H279.0V446.3H204.9ZM341.9 439.0H348.6V446.3H341.9ZM213.9 431.8H218.4V439.0H213.9ZM326.1 431.8H328.4V439.0H326.1ZM211.6 424.6H216.1V431.8H211.6ZM330.6 424.6H332.9V431.8H330.6ZM209.4 417.3H216.1V424.6H209.4ZM330.6 417.3H341.9V424.6H330.6ZM204.9 410.1H213.9V417.3H204.9ZM332.9 410.1H344.1V417.3H332.9ZM202.7 402.8H211.6V410.1H202.7ZM335.1 402.8H346.3V410.1H335.1ZM200.4 395.6H211.6V402.8H200.4ZM335.1 395.6H350.8V402.8H335.1ZM198.2 388.4H209.4V395.6H198.2ZM337.4 388.4H353.1V395.6H337.4ZM195.9 381.1H207.2V388.4H195.9ZM339.6 381.1H353.1V388.4H339.6ZM193.7 373.9H204.9V381.1H193.7ZM339.6 373.9H355.3V381.1H339.6ZM193.7 366.7H204.9V373.9H193.7ZM341.9 366.7H357.6V373.9H341.9ZM191.4 359.4H202.7V366.7H191.4ZM344.1 359.4H357.6V366.7H344.1ZM189.2 352.2H200.4V359.4H189.2ZM344.1 352.2H359.8V359.4H344.1ZM195.9 344.9H216.1V352.2H195.9ZM346.3 344.9H357.6V352.2H346.3ZM225.1 337.7H238.6V344.9H225.1ZM344.1 337.7H357.6V344.9H344.1ZM411.4 337.7H424.9V344.9H411.4ZM247.6 330.5H261.0V337.7H247.6ZM348.6 330.5H355.3V337.7H348.6ZM418.2 330.5H431.7V337.7H418.2ZM272.3 323.2H276.8V330.5H272.3ZM350.8 323.2H353.1V330.5H350.8ZM413.7 323.2H429.4V330.5H413.7ZM258.8 316.0H265.5V323.2H258.8ZM353.1 316.0H355.3V323.2H353.1ZM400.2 316.0H402.5V323.2H400.2ZM411.4 316.0H424.9V323.2H411.4ZM148.8 308.8H153.3V316.0H148.8ZM184.7 308.8H207.2V316.0H184.7ZM245.3 308.8H249.8V316.0H245.3ZM353.1 308.8H355.3V316.0H353.1ZM395.7 308.8H398.0V316.0H395.7ZM407.0 308.8H433.9V316.0H407.0ZM148.8 301.5H155.5V308.8H148.8ZM182.5 301.5H184.7V308.8H182.5ZM204.9 301.5H209.4V308.8H204.9ZM222.9 301.5H231.9V308.8H222.9ZM355.3 301.5H357.6V308.8H355.3ZM391.2 301.5H393.5V308.8H391.2ZM404.7 301.5H438.4V308.8H404.7ZM153.3 294.3H180.2V301.5H153.3ZM357.6 294.3H359.8V301.5H357.6ZM386.8 294.3H389.0V301.5H386.8ZM402.5 294.3H445.1V301.5H402.5ZM153.3 287.0H162.3V294.3H153.3ZM357.6 287.0H359.8V294.3H357.6ZM382.3 287.0H384.5V294.3H382.3ZM407.0 287.0H451.9V294.3H407.0ZM151.0 279.8H164.5V287.0H151.0ZM359.8 279.8H362.1V287.0H359.8ZM377.8 279.8H380.0V287.0H377.8ZM413.7 279.8H456.4V287.0H413.7ZM146.5 272.6H175.7V279.8H146.5ZM362.1 272.6H364.3V279.8H362.1ZM368.8 272.6H375.5V279.8H368.8ZM418.2 272.6H463.1V279.8H418.2ZM169.0 265.3H204.9V272.6H169.0ZM424.9 265.3H469.8V272.6H424.9ZM234.1 258.1H238.6V265.3H234.1ZM431.7 258.1H476.6V265.3H431.7ZM243.1 250.8H245.3V258.1H243.1ZM427.2 250.8H481.0V258.1H427.2ZM252.1 243.6H256.5V250.8H252.1ZM411.4 243.6H487.8V250.8H411.4ZM323.9 236.4H337.4V243.6H323.9ZM371.0 236.4H487.8V243.6H371.0ZM442.9 229.1H460.8V236.4H442.9Z"/>
<path fill="#641cd7" d="M103.9 518.7H128.6V525.9H103.9ZM85.9 511.4H88.2V518.7H85.9ZM382.3 511.4H407.0V518.7H382.3ZM97.2 504.2H99.4V511.4H97.2ZM465.3 504.2H467.6V511.4H465.3ZM108.4 496.9H110.6V504.2H108.4ZM451.9 496.9H456.4V504.2H451.9ZM119.6 489.7H310.4V496.9H119.6ZM442.9 489.7H447.4V496.9H442.9ZM238.6 482.5H371.0V489.7H238.6ZM433.9 482.5H438.4V489.7H433.9ZM319.4 475.2H337.4V482.5H319.4ZM422.7 475.2H429.4V482.5H422.7ZM285.7 468.0H303.7V475.2H285.7ZM409.2 468.0H418.2V475.2H409.2ZM252.1 460.8H270.0V468.0H252.1ZM393.5 460.8H402.5V468.0H393.5ZM218.4 453.5H236.3V460.8H218.4ZM380.0 453.5H386.8V460.8H380.0ZM191.4 446.3H202.7V453.5H191.4ZM364.3 446.3H373.3V453.5H364.3ZM200.4 439.0H204.9V446.3H200.4ZM348.6 439.0H350.8V446.3H348.6ZM209.4 431.8H213.9V439.0H209.4ZM328.4 431.8H330.6V439.0H328.4ZM207.2 424.6H211.6V431.8H207.2ZM332.9 424.6H335.1V431.8H332.9ZM202.7 417.3H209.4V424.6H202.7ZM341.9 417.3H344.1V424.6H341.9ZM200.4 410.1H204.9V417.3H200.4ZM344.1 410.1H350.8V417.3H344.1ZM198.2 402.8H202.7V410.1H198.2ZM346.3 402.8H355.3V410.1H346.3ZM195.9 395.6H200.4V402.8H195.9ZM350.8 395.6H359.8V402.8H350.8ZM193.7 388.4H198.2V395.6H193.7ZM353.1 388.4H362.1V395.6H353.1ZM189.2 381.1H195.9V388.4H189.2ZM353.1 381.1H364.3V388.4H353.1ZM186.9 373.9H193.7V381.1H186.9ZM355.3 373.9H366.6V381.1H355.3ZM184.7 366.7H193.7V373.9H184.7ZM357.6 366.7H368.8V373.9H357.6ZM182.5 359.4H191.4V366.7H182.5ZM357.6 359.4H373.3V366.7H357.6ZM180.2 352.2H189.2V359.4H180.2ZM359.8 352.2H371.0V359.4H359.8ZM184.7 344.9H195.9V352.2H184.7ZM357.6 344.9H366.6V352.2H357.6ZM213.9 337.7H225.1V344.9H213.9ZM357.6 337.7H362.1V344.9H357.6ZM424.9 337.7H449.6V344.9H424.9ZM142.1 330.5H146.5V337.7H142.1ZM236.3 330.5H247.6V337.7H236.3ZM355.3 330.5H357.6V337.7H355.3ZM409.2 330.5H411.4V337.7H409.2ZM431.7 330.5H458.6V337.7H431.7ZM142.1 323.2H148.8V330.5H142.1ZM189.2 323.2H195.9V330.5H189.2ZM265.5 323.2H272.3V330.5H265.5ZM353.1 323.2H355.3V330.5H353.1ZM404.7 323.2H407.0V330.5H404.7ZM429.4 323.2H465.3V330.5H429.4ZM139.8 316.0H151.0V323.2H139.8ZM184.7 316.0H209.4V323.2H184.7ZM254.3 316.0H258.8V323.2H254.3ZM355.3 316.0H357.6V323.2H355.3ZM424.9 316.0H472.1V323.2H424.9ZM139.8 308.8H148.8V316.0H139.8ZM153.3 308.8H155.5V316.0H153.3ZM182.5 308.8H184.7V316.0H182.5ZM207.2 308.8H211.6V316.0H207.2ZM238.6 308.8H245.3V316.0H238.6ZM355.3 308.8H359.8V316.0H355.3ZM433.9 308.8H476.6V316.0H433.9ZM146.5 301.5H148.8V308.8H146.5ZM155.5 301.5H157.8V308.8H155.5ZM175.7 301.5H182.5V308.8H175.7ZM209.4 301.5H211.6V308.8H209.4ZM213.9 301.5H222.9V308.8H213.9ZM357.6 301.5H359.8V308.8H357.6ZM438.4 301.5H483.3V308.8H438.4ZM359.8 294.3H362.1V301.5H359.8ZM445.1 294.3H490.0V301.5H445.1ZM359.8 287.0H364.3V294.3H359.8ZM451.9 287.0H494.5V294.3H451.9ZM362.1 279.8H364.3V287.0H362.1ZM456.4 279.8H501.2V287.0H456.4ZM364.3 272.6H368.8V279.8H364.3ZM463.1 272.6H508.0V279.8H463.1ZM144.3 265.3H169.0V272.6H144.3ZM469.8 265.3H514.7V272.6H469.8ZM231.9 258.1H234.1V265.3H231.9ZM476.6 258.1H519.2V265.3H476.6ZM240.8 250.8H243.1V258.1H240.8ZM481.0 250.8H525.9V258.1H481.0ZM247.6 243.6H252.1V250.8H247.6ZM487.8 243.6H532.7V250.8H487.8ZM308.2 236.4H323.9V243.6H308.2ZM487.8 236.4H537.2V243.6H487.8ZM429.4 229.1H442.9V236.4H429.4ZM460.8 229.1H543.9V236.4H460.8Z"/>
<path fill="#5618cd" d="M128.6 518.7H151.0V525.9H128.6ZM81.4 511.4H85.9V518.7H81.4ZM407.0 511.4H429.4V518.7H407.0ZM92.7 504.2H97.2V511.4H92.7ZM467.6 504.2H472.1V511.4H467.6ZM103.9 496.9H108.4V504.2H103.9ZM456.4 496.9H460.8V504.2H456.4ZM117.4 489.7H119.6V496.9H117.4ZM447.4 489.7H451.9V496.9H447.4ZM130.8 482.5H238.6V489.7H130.8ZM438.4 482.5H442.9V489.7H438.4ZM164.5 475.2H319.4V482.5H164.5ZM429.4 475.2H433.9V482.5H429.4ZM267.8 468.0H285.7V475.2H267.8ZM418.2 468.0H424.9V475.2H418.2ZM234.1 460.8H252.1V468.0H234.1ZM402.5 460.8H413.7V468.0H402.5ZM200.4 453.5H218.4V460.8H200.4ZM386.8 453.5H395.7V460.8H386.8ZM186.9 446.3H191.4V453.5H186.9ZM373.3 446.3H375.5V453.5H373.3ZM193.7 439.0H200.4V446.3H193.7ZM350.8 439.0H353.1V446.3H350.8ZM204.9 431.8H209.4V439.0H204.9ZM202.7 424.6H207.2V431.8H202.7ZM335.1 424.6H337.4V431.8H335.1ZM198.2 417.3H202.7V424.6H198.2ZM195.9 410.1H200.4V417.3H195.9ZM350.8 410.1H353.1V417.3H350.8ZM193.7 402.8H198.2V410.1H193.7ZM355.3 402.8H362.1V410.1H355.3ZM191.4 395.6H195.9V402.8H191.4ZM359.8 395.6H368.8V402.8H359.8ZM189.2 388.4H193.7V395.6H189.2ZM362.1 388.4H371.0V395.6H362.1ZM184.7 381.1H189.2V388.4H184.7ZM364.3 381.1H373.3V388.4H364.3ZM182.5 373.9H186.9V381.1H182.5ZM366.6 373.9H375.5V381.1H366.6ZM180.2 366.7H184.7V373.9H180.2ZM368.8 366.7H377.8V373.9H368.8ZM178.0 359.4H182.5V366.7H178.0ZM373.3 359.4H377.8V366.7H373.3ZM173.5 352.2H180.2V359.4H173.5ZM371.0 352.2H373.3V359.4H371.0ZM178.0 344.9H184.7V352.2H178.0ZM366.6 344.9H368.8V352.2H366.6ZM411.4 344.9H420.4V352.2H411.4ZM186.9 337.7H213.9V344.9H186.9ZM362.1 337.7H366.6V344.9H362.1ZM409.2 337.7H411.4V344.9H409.2ZM449.6 337.7H478.8V344.9H449.6ZM133.1 330.5H142.1V337.7H133.1ZM146.5 330.5H148.8V337.7H146.5ZM189.2 330.5H198.2V337.7H189.2ZM225.1 330.5H236.3V337.7H225.1ZM357.6 330.5H359.8V337.7H357.6ZM458.6 330.5H487.8V337.7H458.6ZM133.1 323.2H142.1V330.5H133.1ZM148.8 323.2H151.0V330.5H148.8ZM184.7 323.2H189.2V330.5H184.7ZM195.9 323.2H211.6V330.5H195.9ZM261.0 323.2H265.5V330.5H261.0ZM465.3 323.2H492.3V330.5H465.3ZM130.8 316.0H139.8V323.2H130.8ZM151.0 316.0H155.5V323.2H151.0ZM182.5 316.0H184.7V323.2H182.5ZM209.4 316.0H211.6V323.2H209.4ZM247.6 316.0H254.3V323.2H247.6ZM357.6 316.0H359.8V323.2H357.6ZM398.0 316.0H400.2V323.2H398.0ZM472.1 316.0H496.8V323.2H472.1ZM137.6 308.8H139.8V316.0H137.6ZM155.5 308.8H157.8V316.0H155.5ZM180.2 308.8H182.5V316.0H180.2ZM229.6 308.8H238.6V316.0H229.6ZM359.8 308.8H362.1V316.0H359.8ZM393.5 308.8H395.7V316.0H393.5ZM476.6 308.8H501.2V316.0H476.6ZM144.3 301.5H146.5V308.8H144.3ZM157.8 301.5H175.7V308.8H157.8ZM211.6 301.5H213.9V308.8H211.6ZM359.8 301.5H362.1V308.8H359.8ZM389.0 301.5H391.2V308.8H389.0ZM483.3 301.5H508.0V308.8H483.3ZM151.0 294.3H153.3V301.5H151.0ZM362.1 294.3H364.3V301.5H362.1ZM384.5 294.3H386.8V301.5H384.5ZM490.0 294.3H512.5V301.5H490.0ZM364.3 287.0H366.6V294.3H364.3ZM380.0 287.0H382.3V294.3H380.0ZM494.5 287.0H517.0V294.3H494.5ZM364.3 279.8H366.6V287.0H364.3ZM373.3 279.8H377.8V287.0H373.3ZM501.2 279.8H521.5V287.0H501.2ZM508.0 272.6H525.9V279.8H508.0ZM514.7 265.3H530.4V272.6H514.7ZM227.4 258.1H231.9V265.3H227.4ZM519.2 258.1H534.9V265.3H519.2ZM236.3 250.8H240.8V258.1H236.3ZM525.9 250.8H539.4V258.1H525.9ZM245.3 243.6H247.6V250.8H245.3ZM532.7 243.6H543.9V250.8H532.7ZM292.5 236.4H308.2V243.6H292.5ZM537.2 236.4H546.2V243.6H537.2ZM413.7 229.1H429.4V236.4H413.7ZM543.9 229.1H550.6V236.4H543.9ZM534.9 221.9H548.4V229.1H534.9Z"/>
<path fill="#4814c3" d="M151.0 518.7H175.7V525.9H151.0ZM79.2 511.4H81.4V518.7H79.2ZM429.4 511.4H454.1V518.7H429.4ZM90.4 504.2H92.7V511.4H90.4ZM472.1 504.2H474.3V511.4H472.1ZM101.6 496.9H103.9V504.2H101.6ZM460.8 496.9H463.1V504.2H460.8ZM115.1 489.7H117.4V496.9H115.1ZM451.9 489.7H456.4V496.9H451.9ZM126.3 482.5H130.8V489.7H126.3ZM442.9 482.5H449.6V489.7H442.9ZM139.8 475.2H164.5V482.5H139.8ZM433.9 475.2H438.4V482.5H433.9ZM153.3 468.0H267.8V475.2H153.3ZM424.9 468.0H431.7V475.2H424.9ZM142.1 460.8H151.0V468.0H142.1ZM216.1 460.8H234.1V468.0H216.1ZM413.7 460.8H422.7V468.0H413.7ZM182.5 453.5H200.4V460.8H182.5ZM395.7 453.5H407.0V460.8H395.7ZM182.5 446.3H186.9V453.5H182.5ZM389.0 446.3H395.7V453.5H389.0ZM186.9 439.0H193.7V446.3H186.9ZM353.1 439.0H355.3V446.3H353.1ZM391.2 439.0H393.5V446.3H391.2ZM198.2 431.8H204.9V439.0H198.2ZM330.6 431.8H332.9V439.0H330.6ZM195.9 424.6H202.7V431.8H195.9ZM193.7 417.3H198.2V424.6H193.7ZM344.1 417.3H346.3V424.6H344.1ZM191.4 410.1H195.9V417.3H191.4ZM353.1 410.1H355.3V417.3H353.1ZM189.2 402.8H193.7V410.1H189.2ZM362.1 402.8H364.3V410.1H362.1ZM186.9 395.6H191.4V402.8H186.9ZM368.8 395.6H373.3V402.8H368.8ZM182.5 388.4H189.2V395.6H182.5ZM371.0 388.4H380.0V395.6H371.0ZM180.2 381.1H184.7V388.4H180.2ZM373.3 381.1H382.3V388.4H373.3ZM178.0 373.9H182.5V381.1H178.0ZM375.5 373.9H384.5V381.1H375.5ZM175.7 366.7H180.2V373.9H175.7ZM377.8 366.7H382.3V373.9H377.8ZM173.5 359.4H178.0V366.7H173.5ZM377.8 359.4H380.0V366.7H377.8ZM171.2 352.2H173.5V359.4H171.2ZM373.3 352.2H380.0V359.4H373.3ZM175.7 344.9H178.0V352.2H175.7ZM368.8 344.9H373.3V352.2H368.8ZM409.2 344.9H411.4V352.2H409.2ZM420.4 344.9H422.7V352.2H420.4ZM144.3 337.7H146.5V344.9H144.3ZM184.7 337.7H186.9V344.9H184.7ZM366.6 337.7H368.8V344.9H366.6ZM478.8 337.7H483.3V344.9H478.8ZM124.1 330.5H133.1V337.7H124.1ZM148.8 330.5H151.0V337.7H148.8ZM186.9 330.5H189.2V337.7H186.9ZM198.2 330.5H225.1V337.7H198.2ZM359.8 330.5H366.6V337.7H359.8ZM407.0 330.5H409.2V337.7H407.0ZM487.8 330.5H499.0V337.7H487.8ZM121.8 323.2H133.1V330.5H121.8ZM151.0 323.2H155.5V330.5H151.0ZM182.5 323.2H184.7V330.5H182.5ZM211.6 323.2H213.9V330.5H211.6ZM254.3 323.2H261.0V330.5H254.3ZM355.3 323.2H357.6V330.5H355.3ZM402.5 323.2H404.7V330.5H402.5ZM492.3 323.2H503.5V330.5H492.3ZM128.6 316.0H130.8V323.2H128.6ZM155.5 316.0H157.8V323.2H155.5ZM180.2 316.0H182.5V323.2H180.2ZM211.6 316.0H213.9V323.2H211.6ZM240.8 316.0H247.6V323.2H240.8ZM496.8 316.0H508.0V323.2H496.8ZM157.8 308.8H160.0V316.0H157.8ZM171.2 308.8H180.2V316.0H171.2ZM211.6 308.8H213.9V316.0H211.6ZM220.6 308.8H229.6V316.0H220.6ZM362.1 308.8H364.3V316.0H362.1ZM501.2 308.8H512.5V316.0H501.2ZM362.1 301.5H364.3V308.8H362.1ZM508.0 301.5H514.7V308.8H508.0ZM364.3 294.3H366.6V301.5H364.3ZM512.5 294.3H519.2V301.5H512.5ZM366.6 287.0H368.8V294.3H366.6ZM377.8 287.0H380.0V294.3H377.8ZM517.0 287.0H523.7V294.3H517.0ZM366.6 279.8H373.3V287.0H366.6ZM521.5 279.8H528.2V287.0H521.5ZM525.9 272.6H532.7V279.8H525.9ZM530.4 265.3H537.2V272.6H530.4ZM225.1 258.1H227.4V265.3H225.1ZM534.9 258.1H539.4V265.3H534.9ZM234.1 250.8H236.3V258.1H234.1ZM539.4 250.8H543.9V258.1H539.4ZM240.8 243.6H245.3V250.8H240.8ZM543.9 243.6H548.4V250.8H543.9ZM279.0 236.4H292.5V243.6H279.0ZM546.2 236.4H552.9V243.6H546.2ZM398.0 229.1H413.7V236.4H398.0ZM550.6 229.1H557.4V236.4H550.6ZM519.2 221.9H534.9V229.1H519.2Z"/>
<path fill="#3a10b8" d="M175.7 518.7H198.2V525.9H175.7ZM454.1 511.4H476.6V518.7H454.1ZM85.9 504.2H90.4V511.4H85.9ZM97.2 496.9H101.6V504.2H97.2ZM463.1 496.9H467.6V504.2H463.1ZM112.9 489.7H115.1V496.9H112.9ZM456.4 489.7H458.6V496.9H456.4ZM121.8 482.5H126.3V489.7H121.8ZM449.6 482.5H451.9V489.7H449.6ZM135.3 475.2H139.8V482.5H135.3ZM438.4 475.2H442.9V482.5H438.4ZM148.8 468.0H153.3V475.2H148.8ZM431.7 468.0H436.1V475.2H431.7ZM139.8 460.8H142.1V468.0H139.8ZM151.0 460.8H157.8V468.0H151.0ZM164.5 460.8H216.1V468.0H164.5ZM422.7 460.8H427.2V468.0H422.7ZM144.3 453.5H157.8V460.8H144.3ZM175.7 453.5H182.5V460.8H175.7ZM407.0 453.5H415.9V460.8H407.0ZM178.0 446.3H182.5V453.5H178.0ZM375.5 446.3H377.8V453.5H375.5ZM386.8 446.3H389.0V453.5H386.8ZM395.7 446.3H402.5V453.5H395.7ZM182.5 439.0H186.9V446.3H182.5ZM389.0 439.0H391.2V446.3H389.0ZM393.5 439.0H400.2V446.3H393.5ZM191.4 431.8H198.2V439.0H191.4ZM332.9 431.8H335.1V439.0H332.9ZM389.0 431.8H398.0V439.0H389.0ZM191.4 424.6H195.9V431.8H191.4ZM337.4 424.6H339.6V431.8H337.4ZM391.2 424.6H393.5V431.8H391.2ZM189.2 417.3H193.7V424.6H189.2ZM346.3 417.3H348.6V424.6H346.3ZM186.9 410.1H191.4V417.3H186.9ZM355.3 410.1H357.6V417.3H355.3ZM184.7 402.8H189.2V410.1H184.7ZM364.3 402.8H366.6V410.1H364.3ZM182.5 395.6H186.9V402.8H182.5ZM373.3 395.6H375.5V402.8H373.3ZM178.0 388.4H182.5V395.6H178.0ZM380.0 388.4H384.5V395.6H380.0ZM175.7 381.1H180.2V388.4H175.7ZM382.3 381.1H391.2V388.4H382.3ZM173.5 373.9H178.0V381.1H173.5ZM384.5 373.9H386.8V381.1H384.5ZM171.2 366.7H175.7V373.9H171.2ZM382.3 366.7H384.5V373.9H382.3ZM169.0 359.4H173.5V366.7H169.0ZM380.0 359.4H384.5V366.7H380.0ZM166.7 352.2H171.2V359.4H166.7ZM380.0 352.2H384.5V359.4H380.0ZM409.2 352.2H415.9V359.4H409.2ZM173.5 344.9H175.7V352.2H173.5ZM373.3 344.9H380.0V352.2H373.3ZM407.0 344.9H409.2V352.2H407.0ZM146.5 337.7H148.8V344.9H146.5ZM182.5 337.7H184.7V344.9H182.5ZM368.8 337.7H373.3V344.9H368.8ZM407.0 337.7H409.2V344.9H407.0ZM483.3 337.7H490.0V344.9H483.3ZM115.1 330.5H124.1V337.7H115.1ZM151.0 330.5H153.3V337.7H151.0ZM182.5 330.5H186.9V337.7H182.5ZM366.6 330.5H368.8V337.7H366.6ZM499.0 330.5H501.2V337.7H499.0ZM155.5 323.2H157.8V330.5H155.5ZM180.2 323.2H182.5V330.5H180.2ZM213.9 323.2H216.1V330.5H213.9ZM249.8 323.2H254.3V330.5H249.8ZM357.6 323.2H359.8V330.5H357.6ZM503.5 323.2H505.7V330.5H503.5ZM157.8 316.0H160.0V323.2H157.8ZM178.0 316.0H180.2V323.2H178.0ZM213.9 316.0H216.1V323.2H213.9ZM236.3 316.0H240.8V323.2H236.3ZM359.8 316.0H362.1V323.2H359.8ZM508.0 316.0H510.2V323.2H508.0ZM135.3 308.8H137.6V316.0H135.3ZM160.0 308.8H171.2V316.0H160.0ZM213.9 308.8H220.6V316.0H213.9ZM391.2 308.8H393.5V316.0H391.2ZM364.3 301.5H366.6V308.8H364.3ZM386.8 301.5H389.0V308.8H386.8ZM514.7 301.5H517.0V308.8H514.7ZM366.6 294.3H368.8V301.5H366.6ZM382.3 294.3H384.5V301.5H382.3ZM519.2 294.3H521.5V301.5H519.2ZM368.8 287.0H371.0V294.3H368.8ZM523.7 287.0H525.9V294.3H523.7ZM528.2 279.8H530.4V287.0H528.2ZM532.7 272.6H534.9V279.8H532.7ZM182.5 258.1H211.6V265.3H182.5ZM220.6 258.1H225.1V265.3H220.6ZM539.4 258.1H541.7V265.3H539.4ZM229.6 250.8H234.1V258.1H229.6ZM543.9 250.8H546.2V258.1H543.9ZM238.6 243.6H240.8V250.8H238.6ZM548.4 243.6H550.6V250.8H548.4ZM263.3 236.4H279.0V243.6H263.3ZM552.9 236.4H555.1V243.6H552.9ZM557.4 236.4H559.6V243.6H557.4ZM384.5 229.1H398.0V236.4H384.5ZM557.4 229.1H559.6V236.4H557.4ZM503.5 221.9H519.2V229.1H503.5Z"/>
<path fill="#2c0cad" d="M198.2 518.7H220.6V525.9H198.2ZM83.7 504.2H85.9V511.4H83.7ZM474.3 504.2H476.6V511.4H474.3ZM94.9 496.9H97.2V504.2H94.9ZM467.6 496.9H469.8V504.2H467.6ZM106.1 489.7H112.9V496.9H106.1ZM458.6 489.7H463.1V496.9H458.6ZM119.6 482.5H121.8V489.7H119.6ZM451.9 482.5H456.4V489.7H451.9ZM128.6 475.2H135.3V482.5H128.6ZM442.9 475.2H449.6V482.5H442.9ZM133.1 468.0H139.8V475.2H133.1ZM144.3 468.0H148.8V475.2H144.3ZM436.1 468.0H440.6V475.2H436.1ZM157.8 460.8H164.5V468.0H157.8ZM427.2 460.8H431.7V468.0H427.2ZM157.8 453.5H175.7V460.8H157.8ZM415.9 453.5H424.9V460.8H415.9ZM173.5 446.3H178.0V453.5H173.5ZM377.8 446.3H380.0V453.5H377.8ZM384.5 446.3H386.8V453.5H384.5ZM402.5 446.3H409.2V453.5H402.5ZM175.7 439.0H182.5V446.3H175.7ZM355.3 439.0H357.6V446.3H355.3ZM384.5 439.0H389.0V446.3H384.5ZM400.2 439.0H407.0V446.3H400.2ZM186.9 431.8H191.4V439.0H186.9ZM386.8 431.8H389.0V439.0H386.8ZM398.0 431.8H402.5V439.0H398.0ZM186.9 424.6H191.4V431.8H186.9ZM339.6 424.6H341.9V431.8H339.6ZM389.0 424.6H391.2V431.8H389.0ZM393.5 424.6H400.2V431.8H393.5ZM184.7 417.3H189.2V424.6H184.7ZM348.6 417.3H350.8V424.6H348.6ZM389.0 417.3H398.0V424.6H389.0ZM182.5 410.1H186.9V417.3H182.5ZM357.6 410.1H359.8V417.3H357.6ZM391.2 410.1H395.7V417.3H391.2ZM180.2 402.8H184.7V410.1H180.2ZM366.6 402.8H368.8V410.1H366.6ZM391.2 402.8H393.5V410.1H391.2ZM175.7 395.6H182.5V402.8H175.7ZM375.5 395.6H377.8V402.8H375.5ZM391.2 395.6H393.5V402.8H391.2ZM173.5 388.4H178.0V395.6H173.5ZM389.0 388.4H393.5V395.6H389.0ZM171.2 381.1H175.7V388.4H171.2ZM391.2 381.1H393.5V388.4H391.2ZM169.0 373.9H173.5V381.1H169.0ZM386.8 373.9H391.2V381.1H386.8ZM166.7 366.7H171.2V373.9H166.7ZM384.5 366.7H389.0V373.9H384.5ZM164.5 359.4H169.0V366.7H164.5ZM384.5 359.4H386.8V366.7H384.5ZM164.5 352.2H166.7V359.4H164.5ZM384.5 352.2H386.8V359.4H384.5ZM407.0 352.2H409.2V359.4H407.0ZM415.9 352.2H418.2V359.4H415.9ZM171.2 344.9H173.5V352.2H171.2ZM380.0 344.9H386.8V352.2H380.0ZM106.1 337.7H144.3V344.9H106.1ZM148.8 337.7H151.0V344.9H148.8ZM180.2 337.7H182.5V344.9H180.2ZM373.3 337.7H375.5V344.9H373.3ZM404.7 337.7H407.0V344.9H404.7ZM490.0 337.7H499.0V344.9H490.0ZM112.9 330.5H115.1V337.7H112.9ZM153.3 330.5H157.8V337.7H153.3ZM180.2 330.5H182.5V337.7H180.2ZM368.8 330.5H373.3V337.7H368.8ZM404.7 330.5H407.0V337.7H404.7ZM501.2 330.5H503.5V337.7H501.2ZM157.8 323.2H160.0V330.5H157.8ZM178.0 323.2H180.2V330.5H178.0ZM243.1 323.2H249.8V330.5H243.1ZM359.8 323.2H362.1V330.5H359.8ZM400.2 323.2H402.5V330.5H400.2ZM505.7 323.2H508.0V330.5H505.7ZM160.0 316.0H162.3V323.2H160.0ZM169.0 316.0H178.0V323.2H169.0ZM216.1 316.0H218.4V323.2H216.1ZM229.6 316.0H236.3V323.2H229.6ZM362.1 316.0H364.3V323.2H362.1ZM395.7 316.0H398.0V323.2H395.7ZM364.3 308.8H366.6V316.0H364.3ZM512.5 308.8H514.7V316.0H512.5ZM142.1 301.5H144.3V308.8H142.1ZM366.6 301.5H368.8V308.8H366.6ZM517.0 301.5H519.2V308.8H517.0ZM368.8 294.3H371.0V301.5H368.8ZM380.0 294.3H382.3V301.5H380.0ZM521.5 294.3H523.7V301.5H521.5ZM371.0 287.0H377.8V294.3H371.0ZM525.9 287.0H528.2V294.3H525.9ZM148.8 279.8H151.0V287.0H148.8ZM530.4 279.8H532.7V287.0H530.4ZM537.2 265.3H539.4V272.6H537.2ZM148.8 258.1H182.5V265.3H148.8ZM211.6 258.1H220.6V265.3H211.6ZM541.7 258.1H543.9V265.3H541.7ZM227.4 250.8H229.6V258.1H227.4ZM546.2 250.8H548.4V258.1H546.2ZM234.1 243.6H238.6V250.8H234.1ZM550.6 243.6H552.9V250.8H550.6ZM557.4 243.6H559.6V250.8H557.4ZM249.8 236.4H263.3V243.6H249.8ZM368.8 229.1H384.5V236.4H368.8ZM490.0 221.9H503.5V229.1H490.0Z"/>
<path fill="#1e08a2" d="M220.6 518.7H245.3V525.9H220.6ZM476.6 511.4H478.8V518.7H476.6ZM81.4 504.2H83.7V511.4H81.4ZM92.7 496.9H94.9V504.2H92.7ZM469.8 496.9H474.3V504.2H469.8ZM103.9 489.7H106.1V496.9H103.9ZM463.1 489.7H467.6V496.9H463.1ZM117.4 482.5H119.6V489.7H117.4ZM456.4 482.5H460.8V489.7H456.4ZM126.3 475.2H128.6V482.5H126.3ZM449.6 475.2H454.1V482.5H449.6ZM130.8 468.0H133.1V475.2H130.8ZM139.8 468.0H144.3V475.2H139.8ZM440.6 468.0H445.1V475.2H440.6ZM137.6 460.8H139.8V468.0H137.6ZM431.7 460.8H438.4V468.0H431.7ZM142.1 453.5H144.3V460.8H142.1ZM424.9 453.5H429.4V460.8H424.9ZM169.0 446.3H173.5V453.5H169.0ZM380.0 446.3H384.5V453.5H380.0ZM409.2 446.3H418.2V453.5H409.2ZM171.2 439.0H175.7V446.3H171.2ZM357.6 439.0H359.8V446.3H357.6ZM382.3 439.0H384.5V446.3H382.3ZM407.0 439.0H413.7V446.3H407.0ZM180.2 431.8H186.9V439.0H180.2ZM335.1 431.8H337.4V439.0H335.1ZM384.5 431.8H386.8V439.0H384.5ZM402.5 431.8H409.2V439.0H402.5ZM182.5 424.6H186.9V431.8H182.5ZM341.9 424.6H344.1V431.8H341.9ZM384.5 424.6H389.0V431.8H384.5ZM400.2 424.6H407.0V431.8H400.2ZM180.2 417.3H184.7V424.6H180.2ZM350.8 417.3H353.1V424.6H350.8ZM386.8 417.3H389.0V424.6H386.8ZM398.0 417.3H404.7V424.6H398.0ZM178.0 410.1H182.5V417.3H178.0ZM359.8 410.1H362.1V417.3H359.8ZM389.0 410.1H391.2V417.3H389.0ZM395.7 410.1H402.5V417.3H395.7ZM175.7 402.8H180.2V410.1H175.7ZM389.0 402.8H391.2V410.1H389.0ZM393.5 402.8H400.2V410.1H393.5ZM171.2 395.6H175.7V402.8H171.2ZM386.8 395.6H391.2V402.8H386.8ZM393.5 395.6H398.0V402.8H393.5ZM169.0 388.4H173.5V395.6H169.0ZM384.5 388.4H389.0V395.6H384.5ZM393.5 388.4H398.0V395.6H393.5ZM166.7 381.1H171.2V388.4H166.7ZM393.5 381.1H400.2V388.4H393.5ZM164.5 373.9H169.0V381.1H164.5ZM391.2 373.9H393.5V381.1H391.2ZM162.3 366.7H166.7V373.9H162.3ZM389.0 366.7H391.2V373.9H389.0ZM160.0 359.4H164.5V366.7H160.0ZM386.8 359.4H391.2V366.7H386.8ZM407.0 359.4H411.4V366.7H407.0ZM162.3 352.2H164.5V359.4H162.3ZM386.8 352.2H391.2V359.4H386.8ZM404.7 352.2H407.0V359.4H404.7ZM169.0 344.9H171.2V352.2H169.0ZM386.8 344.9H389.0V352.2H386.8ZM404.7 344.9H407.0V352.2H404.7ZM422.7 344.9H424.9V352.2H422.7ZM151.0 337.7H153.3V344.9H151.0ZM178.0 337.7H180.2V344.9H178.0ZM375.5 337.7H386.8V344.9H375.5ZM499.0 337.7H501.2V344.9H499.0ZM157.8 330.5H160.0V337.7H157.8ZM178.0 330.5H180.2V337.7H178.0ZM373.3 330.5H375.5V337.7H373.3ZM503.5 330.5H505.7V337.7H503.5ZM119.6 323.2H121.8V330.5H119.6ZM160.0 323.2H162.3V330.5H160.0ZM175.7 323.2H178.0V330.5H175.7ZM216.1 323.2H218.4V330.5H216.1ZM238.6 323.2H243.1V330.5H238.6ZM362.1 323.2H364.3V330.5H362.1ZM162.3 316.0H169.0V323.2H162.3ZM220.6 316.0H229.6V323.2H220.6ZM364.3 316.0H366.6V323.2H364.3ZM510.2 316.0H512.5V323.2H510.2ZM366.6 308.8H368.8V316.0H366.6ZM514.7 308.8H517.0V316.0H514.7ZM368.8 301.5H371.0V308.8H368.8ZM384.5 301.5H386.8V308.8H384.5ZM519.2 301.5H521.5V308.8H519.2ZM148.8 294.3H151.0V301.5H148.8ZM371.0 294.3H373.3V301.5H371.0ZM523.7 294.3H525.9V301.5H523.7ZM528.2 287.0H530.4V294.3H528.2ZM559.6 279.8H561.9V287.0H559.6ZM534.9 272.6H537.2V279.8H534.9ZM142.1 265.3H144.3V272.6H142.1ZM539.4 265.3H541.7V272.6H539.4ZM142.1 258.1H148.8V265.3H142.1ZM543.9 258.1H546.2V265.3H543.9ZM557.4 258.1H559.6V265.3H557.4ZM222.9 250.8H227.4V258.1H222.9ZM557.4 250.8H559.6V258.1H557.4ZM231.9 243.6H234.1V250.8H231.9ZM555.1 243.6H557.4V250.8H555.1ZM245.3 236.4H249.8V243.6H245.3ZM555.1 236.4H557.4V243.6H555.1ZM353.1 229.1H368.8V236.4H353.1ZM474.3 221.9H490.0V229.1H474.3Z"/>
<path fill="#0000ca" d="M478.8 518.7H492.3V525.9H478.8ZM521.5 518.7H537.2V525.9H521.5ZM494.5 511.4H496.8V518.7H494.5ZM528.2 511.4H539.4V518.7H528.2ZM499.0 504.2H501.2V511.4H499.0ZM528.2 504.2H539.4V511.4H528.2ZM499.0 496.9H501.2V504.2H499.0ZM528.2 496.9H539.4V504.2H528.2ZM496.8 489.7H499.0V496.9H496.8ZM528.2 489.7H537.2V496.9H528.2ZM79.2 482.5H83.7V489.7H79.2ZM492.3 482.5H494.5V489.7H492.3ZM528.2 482.5H537.2V489.7H528.2ZM90.4 475.2H94.9V482.5H90.4ZM485.5 475.2H487.8V482.5H485.5ZM528.2 475.2H537.2V482.5H528.2ZM483.3 468.0H485.5V475.2H483.3ZM530.4 468.0H537.2V475.2H530.4ZM119.6 460.8H121.8V468.0H119.6ZM481.0 460.8H483.3V468.0H481.0ZM532.7 460.8H539.4V468.0H532.7ZM126.3 453.5H128.6V460.8H126.3ZM478.8 453.5H481.0V460.8H478.8ZM534.9 453.5H541.7V460.8H534.9ZM133.1 446.3H135.3V453.5H133.1ZM476.6 446.3H478.8V453.5H476.6ZM510.2 446.3H541.7V453.5H510.2ZM474.3 439.0H478.8V446.3H474.3ZM510.2 439.0H512.5V446.3H510.2ZM530.4 439.0H532.7V446.3H530.4ZM474.3 431.8H476.6V439.0H474.3ZM510.2 431.8H512.5V439.0H510.2ZM83.7 424.6H88.2V431.8H83.7ZM124.1 424.6H130.8V431.8H124.1ZM474.3 424.6H476.6V431.8H474.3ZM514.7 424.6H517.0V431.8H514.7ZM523.7 424.6H525.9V431.8H523.7ZM128.6 417.3H133.1V424.6H128.6ZM472.1 417.3H474.3V424.6H472.1ZM561.9 417.3H564.1V424.6H561.9ZM126.3 410.1H130.8V417.3H126.3ZM467.6 410.1H469.8V417.3H467.6ZM561.9 410.1H564.1V417.3H561.9ZM124.1 402.8H128.6V410.1H124.1ZM465.3 402.8H467.6V410.1H465.3ZM508.0 402.8H510.2V410.1H508.0ZM124.1 395.6H128.6V402.8H124.1ZM472.1 395.6H474.3V402.8H472.1ZM505.7 395.6H508.0V402.8H505.7ZM559.6 395.6H561.9V402.8H559.6ZM481.0 388.4H483.3V395.6H481.0ZM505.7 388.4H508.0V395.6H505.7ZM487.8 381.1H490.0V388.4H487.8ZM503.5 381.1H505.7V388.4H503.5ZM557.4 381.1H559.6V388.4H557.4ZM126.3 373.9H128.6V381.1H126.3ZM494.5 373.9H496.8V381.1H494.5ZM501.2 373.9H505.7V381.1H501.2ZM128.6 366.7H130.8V373.9H128.6ZM433.9 366.7H440.6V373.9H433.9ZM501.2 366.7H503.5V373.9H501.2ZM555.1 366.7H557.4V373.9H555.1ZM424.9 359.4H431.7V366.7H424.9ZM440.6 359.4H445.1V366.7H440.6ZM555.1 359.4H557.4V366.7H555.1ZM427.2 352.2H429.4V359.4H427.2ZM442.9 352.2H445.1V359.4H442.9ZM508.0 352.2H510.2V359.4H508.0ZM552.9 352.2H555.1V359.4H552.9ZM135.3 344.9H142.1V352.2H135.3ZM552.9 344.9H555.1V352.2H552.9ZM514.7 337.7H517.0V344.9H514.7ZM550.6 330.5H552.9V337.7H550.6ZM548.4 316.0H550.6V323.2H548.4ZM126.3 308.8H128.6V316.0H126.3ZM546.2 301.5H548.4V308.8H546.2ZM546.2 294.3H548.4V301.5H546.2ZM543.9 287.0H546.2V294.3H543.9ZM543.9 279.8H546.2V287.0H543.9ZM139.8 265.3H142.1V272.6H139.8ZM184.7 243.6H198.2V250.8H184.7ZM204.9 236.4H207.2V243.6H204.9ZM213.9 229.1H218.4V236.4H213.9ZM308.2 221.9H323.9V229.1H308.2Z"/>
<path fill="#0406ce" d="M492.3 518.7H494.5V525.9H492.3ZM496.8 518.7H521.5V525.9H496.8ZM496.8 511.4H499.0V518.7H496.8ZM514.7 511.4H528.2V518.7H514.7ZM501.2 504.2H503.5V511.4H501.2ZM519.2 504.2H528.2V511.4H519.2ZM501.2 496.9H503.5V504.2H501.2ZM517.0 496.9H528.2V504.2H517.0ZM499.0 489.7H501.2V496.9H499.0ZM517.0 489.7H528.2V496.9H517.0ZM494.5 482.5H496.8V489.7H494.5ZM519.2 482.5H528.2V489.7H519.2ZM88.2 475.2H90.4V482.5H88.2ZM487.8 475.2H492.3V482.5H487.8ZM521.5 475.2H528.2V482.5H521.5ZM112.9 468.0H115.1V475.2H112.9ZM485.5 468.0H490.0V475.2H485.5ZM523.7 468.0H530.4V475.2H523.7ZM483.3 460.8H487.8V468.0H483.3ZM525.9 460.8H532.7V468.0H525.9ZM124.1 453.5H126.3V460.8H124.1ZM481.0 453.5H485.5V460.8H481.0ZM508.0 453.5H534.9V460.8H508.0ZM130.8 446.3H133.1V453.5H130.8ZM478.8 446.3H483.3V453.5H478.8ZM508.0 446.3H510.2V453.5H508.0ZM79.2 439.0H81.4V446.3H79.2ZM478.8 439.0H481.0V446.3H478.8ZM508.0 439.0H510.2V446.3H508.0ZM476.6 431.8H481.0V439.0H476.6ZM508.0 431.8H510.2V439.0H508.0ZM76.9 424.6H79.2V431.8H76.9ZM81.4 424.6H83.7V431.8H81.4ZM88.2 424.6H90.4V431.8H88.2ZM121.8 424.6H124.1V431.8H121.8ZM476.6 424.6H478.8V431.8H476.6ZM512.5 424.6H514.7V431.8H512.5ZM517.0 424.6H523.7V431.8H517.0ZM124.1 417.3H128.6V424.6H124.1ZM474.3 417.3H476.6V424.6H474.3ZM121.8 410.1H126.3V417.3H121.8ZM469.8 410.1H472.1V417.3H469.8ZM559.6 410.1H561.9V417.3H559.6ZM121.8 402.8H124.1V410.1H121.8ZM467.6 402.8H469.8V410.1H467.6ZM505.7 402.8H508.0V410.1H505.7ZM559.6 402.8H561.9V410.1H559.6ZM474.3 395.6H478.8V402.8H474.3ZM503.5 395.6H505.7V402.8H503.5ZM508.0 395.6H510.2V402.8H508.0ZM557.4 395.6H559.6V402.8H557.4ZM124.1 388.4H126.3V395.6H124.1ZM483.3 388.4H485.5V395.6H483.3ZM503.5 388.4H505.7V395.6H503.5ZM557.4 388.4H559.6V395.6H557.4ZM490.0 381.1H492.3V388.4H490.0ZM501.2 381.1H503.5V388.4H501.2ZM496.8 373.9H501.2V381.1H496.8ZM555.1 373.9H557.4V381.1H555.1ZM130.8 366.7H133.1V373.9H130.8ZM431.7 359.4H440.6V366.7H431.7ZM505.7 359.4H508.0V366.7H505.7ZM552.9 359.4H555.1V366.7H552.9ZM440.6 352.2H442.9V359.4H440.6ZM133.1 344.9H135.3V352.2H133.1ZM512.5 344.9H514.7V352.2H512.5ZM550.6 344.9H552.9V352.2H550.6ZM550.6 337.7H552.9V344.9H550.6ZM103.9 330.5H106.1V337.7H103.9ZM519.2 330.5H521.5V337.7H519.2ZM548.4 330.5H550.6V337.7H548.4ZM548.4 323.2H550.6V330.5H548.4ZM525.9 316.0H528.2V323.2H525.9ZM546.2 308.8H548.4V316.0H546.2ZM133.1 301.5H135.3V308.8H133.1ZM532.7 301.5H534.9V308.8H532.7ZM543.9 294.3H546.2V301.5H543.9ZM539.4 287.0H541.7V294.3H539.4ZM200.4 236.4H204.9V243.6H200.4ZM209.4 229.1H213.9V236.4H209.4ZM294.7 221.9H308.2V229.1H294.7Z"/>
<path fill="#0b13d1" d="M494.5 518.7H496.8V525.9H494.5ZM499.0 511.4H514.7V518.7H499.0ZM503.5 504.2H519.2V511.4H503.5ZM503.5 496.9H505.7V504.2H503.5ZM510.2 496.9H517.0V504.2H510.2ZM501.2 489.7H503.5V496.9H501.2ZM512.5 489.7H517.0V496.9H512.5ZM496.8 482.5H499.0V489.7H496.8ZM514.7 482.5H519.2V489.7H514.7ZM83.7 475.2H88.2V482.5H83.7ZM492.3 475.2H494.5V482.5H492.3ZM514.7 475.2H521.5V482.5H514.7ZM108.4 468.0H112.9V475.2H108.4ZM490.0 468.0H492.3V475.2H490.0ZM517.0 468.0H523.7V475.2H517.0ZM117.4 460.8H119.6V468.0H117.4ZM487.8 460.8H490.0V468.0H487.8ZM505.7 460.8H525.9V468.0H505.7ZM485.5 453.5H487.8V460.8H485.5ZM505.7 453.5H508.0V460.8H505.7ZM483.3 446.3H485.5V453.5H483.3ZM505.7 446.3H508.0V453.5H505.7ZM128.6 439.0H130.8V446.3H128.6ZM481.0 439.0H483.3V446.3H481.0ZM505.7 439.0H508.0V446.3H505.7ZM481.0 431.8H483.3V439.0H481.0ZM505.7 431.8H508.0V439.0H505.7ZM79.2 424.6H81.4V431.8H79.2ZM478.8 424.6H483.3V431.8H478.8ZM510.2 424.6H512.5V431.8H510.2ZM119.6 417.3H124.1V424.6H119.6ZM476.6 417.3H478.8V424.6H476.6ZM559.6 417.3H561.9V424.6H559.6ZM472.1 410.1H474.3V417.3H472.1ZM469.8 402.8H474.3V410.1H469.8ZM503.5 402.8H505.7V410.1H503.5ZM510.2 402.8H512.5V410.1H510.2ZM557.4 402.8H559.6V410.1H557.4ZM121.8 395.6H124.1V402.8H121.8ZM478.8 395.6H481.0V402.8H478.8ZM501.2 395.6H503.5V402.8H501.2ZM485.5 388.4H487.8V395.6H485.5ZM501.2 388.4H503.5V395.6H501.2ZM555.1 388.4H557.4V395.6H555.1ZM124.1 381.1H126.3V388.4H124.1ZM492.3 381.1H494.5V388.4H492.3ZM499.0 381.1H501.2V388.4H499.0ZM505.7 381.1H508.0V388.4H505.7ZM555.1 381.1H557.4V388.4H555.1ZM552.9 373.9H555.1V381.1H552.9ZM552.9 366.7H555.1V373.9H552.9ZM146.5 352.2H148.8V359.4H146.5ZM429.4 352.2H433.9V359.4H429.4ZM436.1 352.2H440.6V359.4H436.1ZM550.6 352.2H552.9V359.4H550.6ZM548.4 337.7H550.6V344.9H548.4ZM110.6 323.2H112.9V330.5H110.6ZM523.7 323.2H525.9V330.5H523.7ZM546.2 323.2H548.4V330.5H546.2ZM546.2 316.0H548.4V323.2H546.2ZM530.4 308.8H532.7V316.0H530.4ZM543.9 308.8H546.2V316.0H543.9ZM543.9 301.5H546.2V308.8H543.9ZM537.2 294.3H539.4V301.5H537.2ZM541.7 287.0H543.9V294.3H541.7ZM198.2 236.4H200.4V243.6H198.2ZM204.9 229.1H209.4V236.4H204.9ZM279.0 221.9H294.7V229.1H279.0ZM400.2 214.7H407.0V221.9H400.2Z"/>
<path fill="#131fd3" d="M505.7 496.9H510.2V504.2H505.7ZM503.5 489.7H512.5V496.9H503.5ZM499.0 482.5H501.2V489.7H499.0ZM508.0 482.5H514.7V489.7H508.0ZM81.4 475.2H83.7V482.5H81.4ZM494.5 475.2H499.0V482.5H494.5ZM510.2 475.2H514.7V482.5H510.2ZM92.7 468.0H108.4V475.2H92.7ZM492.3 468.0H496.8V475.2H492.3ZM503.5 468.0H517.0V475.2H503.5ZM115.1 460.8H117.4V468.0H115.1ZM490.0 460.8H494.5V468.0H490.0ZM503.5 460.8H505.7V468.0H503.5ZM121.8 453.5H124.1V460.8H121.8ZM487.8 453.5H492.3V460.8H487.8ZM503.5 453.5H505.7V460.8H503.5ZM128.6 446.3H130.8V453.5H128.6ZM485.5 446.3H490.0V453.5H485.5ZM503.5 446.3H505.7V453.5H503.5ZM483.3 439.0H487.8V446.3H483.3ZM503.5 439.0H505.7V446.3H503.5ZM483.3 431.8H485.5V439.0H483.3ZM503.5 431.8H505.7V439.0H503.5ZM483.3 424.6H485.5V431.8H483.3ZM508.0 424.6H510.2V431.8H508.0ZM92.7 417.3H94.9V424.6H92.7ZM478.8 417.3H481.0V424.6H478.8ZM557.4 417.3H559.6V424.6H557.4ZM119.6 410.1H121.8V417.3H119.6ZM474.3 410.1H476.6V417.3H474.3ZM503.5 410.1H508.0V417.3H503.5ZM557.4 410.1H559.6V417.3H557.4ZM474.3 402.8H476.6V410.1H474.3ZM501.2 402.8H503.5V410.1H501.2ZM555.1 402.8H557.4V410.1H555.1ZM481.0 395.6H483.3V402.8H481.0ZM499.0 395.6H501.2V402.8H499.0ZM555.1 395.6H557.4V402.8H555.1ZM121.8 388.4H124.1V395.6H121.8ZM487.8 388.4H490.0V395.6H487.8ZM499.0 388.4H501.2V395.6H499.0ZM508.0 388.4H510.2V395.6H508.0ZM494.5 381.1H499.0V388.4H494.5ZM552.9 381.1H555.1V388.4H552.9ZM124.1 373.9H126.3V381.1H124.1ZM503.5 366.7H505.7V373.9H503.5ZM550.6 366.7H552.9V373.9H550.6ZM550.6 359.4H552.9V366.7H550.6ZM433.9 352.2H436.1V359.4H433.9ZM510.2 352.2H512.5V359.4H510.2ZM548.4 352.2H550.6V359.4H548.4ZM108.4 344.9H110.6V352.2H108.4ZM548.4 344.9H550.6V352.2H548.4ZM517.0 337.7H519.2V344.9H517.0ZM546.2 337.7H548.4V344.9H546.2ZM546.2 330.5H548.4V337.7H546.2ZM117.4 316.0H119.6V323.2H117.4ZM543.9 316.0H546.2V323.2H543.9ZM124.1 308.8H126.3V316.0H124.1ZM541.7 301.5H543.9V308.8H541.7ZM142.1 294.3H144.3V301.5H142.1ZM541.7 294.3H543.9V301.5H541.7ZM148.8 287.0H151.0V294.3H148.8ZM137.6 258.1H139.8V265.3H137.6ZM193.7 236.4H198.2V243.6H193.7ZM202.7 229.1H204.9V236.4H202.7ZM263.3 221.9H279.0V229.1H263.3ZM384.5 214.7H400.2V221.9H384.5Z"/>
<path fill="#1b2cd6" d="M501.2 482.5H508.0V489.7H501.2ZM79.2 475.2H81.4V482.5H79.2ZM499.0 475.2H501.2V482.5H499.0ZM503.5 475.2H510.2V482.5H503.5ZM90.4 468.0H92.7V475.2H90.4ZM496.8 468.0H499.0V475.2H496.8ZM494.5 460.8H496.8V468.0H494.5ZM119.6 453.5H121.8V460.8H119.6ZM492.3 453.5H494.5V460.8H492.3ZM126.3 446.3H128.6V453.5H126.3ZM490.0 446.3H492.3V453.5H490.0ZM81.4 439.0H83.7V446.3H81.4ZM487.8 439.0H490.0V446.3H487.8ZM124.1 431.8H126.3V439.0H124.1ZM485.5 431.8H490.0V439.0H485.5ZM485.5 424.6H487.8V431.8H485.5ZM505.7 424.6H508.0V431.8H505.7ZM88.2 417.3H92.7V424.6H88.2ZM481.0 417.3H483.3V424.6H481.0ZM555.1 417.3H557.4V424.6H555.1ZM476.6 410.1H478.8V417.3H476.6ZM501.2 410.1H503.5V417.3H501.2ZM508.0 410.1H510.2V417.3H508.0ZM555.1 410.1H557.4V417.3H555.1ZM119.6 402.8H121.8V410.1H119.6ZM476.6 402.8H478.8V410.1H476.6ZM499.0 402.8H501.2V410.1H499.0ZM119.6 395.6H121.8V402.8H119.6ZM483.3 395.6H485.5V402.8H483.3ZM496.8 395.6H499.0V402.8H496.8ZM552.9 395.6H555.1V402.8H552.9ZM490.0 388.4H492.3V395.6H490.0ZM496.8 388.4H499.0V395.6H496.8ZM552.9 388.4H555.1V395.6H552.9ZM121.8 381.1H124.1V388.4H121.8ZM550.6 381.1H552.9V388.4H550.6ZM505.7 373.9H508.0V381.1H505.7ZM550.6 373.9H552.9V381.1H550.6ZM126.3 366.7H128.6V373.9H126.3ZM508.0 359.4H510.2V366.7H508.0ZM548.4 359.4H550.6V366.7H548.4ZM117.4 352.2H119.6V359.4H117.4ZM514.7 344.9H517.0V352.2H514.7ZM546.2 344.9H548.4V352.2H546.2ZM101.6 330.5H103.9V337.7H101.6ZM521.5 330.5H523.7V337.7H521.5ZM543.9 330.5H546.2V337.7H543.9ZM543.9 323.2H546.2V330.5H543.9ZM528.2 316.0H530.4V323.2H528.2ZM541.7 316.0H543.9V323.2H541.7ZM541.7 308.8H543.9V316.0H541.7ZM130.8 301.5H133.1V308.8H130.8ZM534.9 301.5H537.2V308.8H534.9ZM539.4 294.3H541.7V301.5H539.4ZM135.3 236.4H148.8V243.6H135.3ZM191.4 236.4H193.7V243.6H191.4ZM198.2 229.1H202.7V236.4H198.2ZM249.8 221.9H263.3V229.1H249.8ZM368.8 214.7H384.5V221.9H368.8Z"/>
<path fill="#2339d9" d="M501.2 475.2H503.5V482.5H501.2ZM85.9 468.0H90.4V475.2H85.9ZM499.0 468.0H503.5V475.2H499.0ZM112.9 460.8H115.1V468.0H112.9ZM496.8 460.8H503.5V468.0H496.8ZM494.5 453.5H499.0V460.8H494.5ZM501.2 453.5H503.5V460.8H501.2ZM492.3 446.3H496.8V453.5H492.3ZM501.2 446.3H503.5V453.5H501.2ZM490.0 439.0H494.5V446.3H490.0ZM501.2 439.0H503.5V446.3H501.2ZM83.7 431.8H85.9V439.0H83.7ZM490.0 431.8H492.3V439.0H490.0ZM501.2 431.8H503.5V439.0H501.2ZM487.8 424.6H492.3V431.8H487.8ZM503.5 424.6H505.7V431.8H503.5ZM76.9 417.3H79.2V424.6H76.9ZM85.9 417.3H88.2V424.6H85.9ZM94.9 417.3H97.2V424.6H94.9ZM483.3 417.3H485.5V424.6H483.3ZM499.0 417.3H503.5V424.6H499.0ZM552.9 417.3H555.1V424.6H552.9ZM117.4 410.1H119.6V417.3H117.4ZM478.8 410.1H481.0V417.3H478.8ZM499.0 410.1H501.2V417.3H499.0ZM552.9 410.1H555.1V417.3H552.9ZM478.8 402.8H481.0V410.1H478.8ZM496.8 402.8H499.0V410.1H496.8ZM552.9 402.8H555.1V410.1H552.9ZM485.5 395.6H487.8V402.8H485.5ZM494.5 395.6H496.8V402.8H494.5ZM510.2 395.6H512.5V402.8H510.2ZM119.6 388.4H121.8V395.6H119.6ZM492.3 388.4H496.8V395.6H492.3ZM550.6 388.4H552.9V395.6H550.6ZM121.8 373.9H124.1V381.1H121.8ZM548.4 373.9H550.6V381.1H548.4ZM548.4 366.7H550.6V373.9H548.4ZM546.2 359.4H548.4V366.7H546.2ZM546.2 352.2H548.4V359.4H546.2ZM130.8 344.9H133.1V352.2H130.8ZM543.9 337.7H546.2V344.9H543.9ZM108.4 323.2H110.6V330.5H108.4ZM525.9 323.2H528.2V330.5H525.9ZM541.7 323.2H543.9V330.5H541.7ZM532.7 308.8H534.9V316.0H532.7ZM539.4 308.8H541.7V316.0H539.4ZM539.4 301.5H541.7V308.8H539.4ZM142.1 272.6H144.3V279.8H142.1ZM133.1 236.4H135.3V243.6H133.1ZM148.8 236.4H171.2V243.6H148.8ZM186.9 236.4H191.4V243.6H186.9ZM195.9 229.1H198.2V236.4H195.9ZM234.1 221.9H249.8V229.1H234.1ZM355.3 214.7H368.8V221.9H355.3Z"/>
<path fill="#3452de" d="M79.2 468.0H83.7V475.2H79.2ZM103.9 460.8H110.6V468.0H103.9ZM115.1 453.5H117.4V460.8H115.1ZM121.8 446.3H124.1V453.5H121.8ZM496.8 431.8H499.0V439.0H496.8ZM494.5 424.6H501.2V431.8H494.5ZM79.2 417.3H81.4V424.6H79.2ZM487.8 417.3H492.3V424.6H487.8ZM494.5 417.3H496.8V424.6H494.5ZM517.0 417.3H519.2V424.6H517.0ZM548.4 417.3H550.6V424.6H548.4ZM97.2 410.1H99.4V417.3H97.2ZM483.3 410.1H485.5V417.3H483.3ZM494.5 410.1H496.8V417.3H494.5ZM512.5 410.1H514.7V417.3H512.5ZM548.4 410.1H550.6V417.3H548.4ZM483.3 402.8H485.5V410.1H483.3ZM492.3 402.8H494.5V410.1H492.3ZM512.5 402.8H514.7V410.1H512.5ZM117.4 395.6H119.6V402.8H117.4ZM490.0 395.6H492.3V402.8H490.0ZM548.4 395.6H550.6V402.8H548.4ZM117.4 388.4H119.6V395.6H117.4ZM510.2 388.4H512.5V395.6H510.2ZM119.6 381.1H121.8V388.4H119.6ZM546.2 381.1H548.4V388.4H546.2ZM546.2 373.9H548.4V381.1H546.2ZM124.1 366.7H126.3V373.9H124.1ZM543.9 366.7H546.2V373.9H543.9ZM137.6 359.4H139.8V366.7H137.6ZM510.2 359.4H512.5V366.7H510.2ZM543.9 359.4H546.2V366.7H543.9ZM517.0 344.9H519.2V352.2H517.0ZM541.7 344.9H543.9V352.2H541.7ZM523.7 330.5H525.9V337.7H523.7ZM539.4 330.5H541.7V337.7H539.4ZM530.4 316.0H532.7V323.2H530.4ZM537.2 316.0H539.4V323.2H537.2ZM121.8 308.8H124.1V316.0H121.8ZM537.2 308.8H539.4V316.0H537.2ZM128.6 301.5H130.8V308.8H128.6ZM139.8 294.3H142.1V301.5H139.8ZM189.2 229.1H191.4V236.4H189.2ZM202.7 221.9H218.4V229.1H202.7ZM323.9 214.7H339.6V221.9H323.9Z"/>
<path fill="#2c46dc" d="M83.7 468.0H85.9V475.2H83.7ZM110.6 460.8H112.9V468.0H110.6ZM117.4 453.5H119.6V460.8H117.4ZM499.0 453.5H501.2V460.8H499.0ZM124.1 446.3H126.3V453.5H124.1ZM496.8 446.3H501.2V453.5H496.8ZM83.7 439.0H85.9V446.3H83.7ZM126.3 439.0H128.6V446.3H126.3ZM494.5 439.0H501.2V446.3H494.5ZM492.3 431.8H496.8V439.0H492.3ZM499.0 431.8H501.2V439.0H499.0ZM119.6 424.6H121.8V431.8H119.6ZM492.3 424.6H494.5V431.8H492.3ZM501.2 424.6H503.5V431.8H501.2ZM81.4 417.3H85.9V424.6H81.4ZM485.5 417.3H487.8V424.6H485.5ZM496.8 417.3H499.0V424.6H496.8ZM503.5 417.3H505.7V424.6H503.5ZM550.6 417.3H552.9V424.6H550.6ZM99.4 410.1H101.6V417.3H99.4ZM481.0 410.1H483.3V417.3H481.0ZM496.8 410.1H499.0V417.3H496.8ZM510.2 410.1H512.5V417.3H510.2ZM550.6 410.1H552.9V417.3H550.6ZM117.4 402.8H119.6V410.1H117.4ZM481.0 402.8H483.3V410.1H481.0ZM494.5 402.8H496.8V410.1H494.5ZM550.6 402.8H552.9V410.1H550.6ZM487.8 395.6H490.0V402.8H487.8ZM492.3 395.6H494.5V402.8H492.3ZM550.6 395.6H552.9V402.8H550.6ZM548.4 388.4H550.6V395.6H548.4ZM508.0 381.1H510.2V388.4H508.0ZM548.4 381.1H550.6V388.4H548.4ZM505.7 366.7H508.0V373.9H505.7ZM546.2 366.7H548.4V373.9H546.2ZM512.5 352.2H514.7V359.4H512.5ZM543.9 352.2H546.2V359.4H543.9ZM543.9 344.9H546.2V352.2H543.9ZM99.4 337.7H101.6V344.9H99.4ZM519.2 337.7H521.5V344.9H519.2ZM541.7 337.7H543.9V344.9H541.7ZM541.7 330.5H543.9V337.7H541.7ZM539.4 323.2H541.7V330.5H539.4ZM115.1 316.0H117.4V323.2H115.1ZM539.4 316.0H541.7V323.2H539.4ZM537.2 301.5H539.4V308.8H537.2ZM135.3 250.8H137.6V258.1H135.3ZM171.2 236.4H186.9V243.6H171.2ZM191.4 229.1H195.9V236.4H191.4ZM218.4 221.9H234.1V229.1H218.4ZM339.6 214.7H355.3V221.9H339.6Z"/>
<path fill="#3e6ce7" d="M79.2 460.8H81.4V468.0H79.2ZM103.9 453.5H110.6V460.8H103.9ZM115.1 446.3H117.4V453.5H115.1ZM88.2 439.0H90.4V446.3H88.2ZM121.8 439.0H124.1V446.3H121.8ZM94.9 431.8H99.4V439.0H94.9ZM532.7 417.3H537.2V424.6H532.7ZM539.4 417.3H541.7V424.6H539.4ZM83.7 410.1H88.2V417.3H83.7ZM517.0 410.1H519.2V417.3H517.0ZM541.7 410.1H543.9V417.3H541.7ZM101.6 402.8H103.9V410.1H101.6ZM514.7 402.8H517.0V410.1H514.7ZM541.7 402.8H543.9V410.1H541.7ZM112.9 395.6H115.1V402.8H112.9ZM541.7 395.6H543.9V402.8H541.7ZM115.1 388.4H117.4V395.6H115.1ZM512.5 388.4H514.7V395.6H512.5ZM541.7 388.4H543.9V395.6H541.7ZM539.4 373.9H541.7V381.1H539.4ZM117.4 366.7H119.6V373.9H117.4ZM537.2 359.4H539.4V366.7H537.2ZM115.1 352.2H117.4V359.4H115.1ZM534.9 344.9H537.2V352.2H534.9ZM534.9 337.7H537.2V344.9H534.9ZM97.2 330.5H99.4V337.7H97.2ZM530.4 323.2H534.9V330.5H530.4ZM126.3 301.5H128.6V308.8H126.3ZM137.6 294.3H139.8V301.5H137.6ZM144.3 279.8H146.5V287.0H144.3ZM137.6 265.3H139.8V272.6H137.6ZM135.3 229.1H157.8V236.4H135.3ZM175.7 229.1H180.2V236.4H175.7ZM184.7 221.9H186.9V229.1H184.7ZM263.3 214.7H279.0V221.9H263.3Z"/>
<path fill="#3d68e5" d="M81.4 460.8H85.9V468.0H81.4ZM110.6 453.5H112.9V460.8H110.6ZM117.4 446.3H119.6V453.5H117.4ZM124.1 439.0H126.3V446.3H124.1ZM92.7 431.8H94.9V439.0H92.7ZM117.4 424.6H119.6V431.8H117.4ZM117.4 417.3H119.6V424.6H117.4ZM510.2 417.3H512.5V424.6H510.2ZM525.9 417.3H532.7V424.6H525.9ZM541.7 417.3H543.9V424.6H541.7ZM88.2 410.1H90.4V417.3H88.2ZM543.9 410.1H546.2V417.3H543.9ZM103.9 402.8H108.4V410.1H103.9ZM543.9 402.8H546.2V410.1H543.9ZM543.9 395.6H546.2V402.8H543.9ZM510.2 381.1H512.5V388.4H510.2ZM541.7 381.1H543.9V388.4H541.7ZM541.7 373.9H543.9V381.1H541.7ZM119.6 366.7H121.8V373.9H119.6ZM539.4 366.7H541.7V373.9H539.4ZM512.5 359.4H514.7V366.7H512.5ZM539.4 359.4H541.7V366.7H539.4ZM537.2 352.2H539.4V359.4H537.2ZM106.1 344.9H108.4V352.2H106.1ZM519.2 344.9H521.5V352.2H519.2ZM537.2 344.9H539.4V352.2H537.2ZM525.9 330.5H528.2V337.7H525.9ZM534.9 330.5H537.2V337.7H534.9ZM532.7 316.0H534.9V323.2H532.7ZM119.6 308.8H121.8V316.0H119.6ZM133.1 229.1H135.3V236.4H133.1ZM180.2 229.1H182.5V236.4H180.2ZM186.9 221.9H191.4V229.1H186.9ZM279.0 214.7H294.7V221.9H279.0Z"/>
<path fill="#3d63e3" d="M85.9 460.8H88.2V468.0H85.9ZM112.9 453.5H115.1V460.8H112.9ZM85.9 439.0H88.2V446.3H85.9ZM88.2 431.8H92.7V439.0H88.2ZM90.4 424.6H92.7V431.8H90.4ZM508.0 417.3H510.2V424.6H508.0ZM512.5 417.3H514.7V424.6H512.5ZM523.7 417.3H525.9V424.6H523.7ZM543.9 417.3H546.2V424.6H543.9ZM76.9 410.1H79.2V417.3H76.9ZM90.4 410.1H92.7V417.3H90.4ZM101.6 410.1H103.9V417.3H101.6ZM490.0 410.1H492.3V417.3H490.0ZM546.2 402.8H548.4V410.1H546.2ZM115.1 395.6H117.4V402.8H115.1ZM512.5 395.6H514.7V402.8H512.5ZM546.2 395.6H548.4V402.8H546.2ZM543.9 388.4H546.2V395.6H543.9ZM543.9 381.1H546.2V388.4H543.9ZM121.8 366.7H124.1V373.9H121.8ZM508.0 366.7H510.2V373.9H508.0ZM541.7 366.7H543.9V373.9H541.7ZM514.7 352.2H517.0V359.4H514.7ZM539.4 352.2H541.7V359.4H539.4ZM128.6 344.9H130.8V352.2H128.6ZM521.5 337.7H523.7V344.9H521.5ZM537.2 337.7H539.4V344.9H537.2ZM537.2 330.5H539.4V337.7H537.2ZM534.9 323.2H537.2V330.5H534.9ZM112.9 316.0H115.1V323.2H112.9ZM534.9 316.0H537.2V323.2H534.9ZM182.5 229.1H186.9V236.4H182.5ZM191.4 221.9H195.9V229.1H191.4ZM294.7 214.7H310.4V221.9H294.7Z"/>
<path fill="#3c5fe1" d="M88.2 460.8H103.9V468.0H88.2ZM119.6 446.3H121.8V453.5H119.6ZM85.9 431.8H88.2V439.0H85.9ZM121.8 431.8H124.1V439.0H121.8ZM492.3 417.3H494.5V424.6H492.3ZM505.7 417.3H508.0V424.6H505.7ZM514.7 417.3H517.0V424.6H514.7ZM519.2 417.3H523.7V424.6H519.2ZM546.2 417.3H548.4V424.6H546.2ZM92.7 410.1H97.2V417.3H92.7ZM485.5 410.1H490.0V417.3H485.5ZM492.3 410.1H494.5V417.3H492.3ZM514.7 410.1H517.0V417.3H514.7ZM546.2 410.1H548.4V417.3H546.2ZM115.1 402.8H117.4V410.1H115.1ZM485.5 402.8H492.3V410.1H485.5ZM548.4 402.8H550.6V410.1H548.4ZM546.2 388.4H548.4V395.6H546.2ZM508.0 373.9H510.2V381.1H508.0ZM543.9 373.9H546.2V381.1H543.9ZM541.7 359.4H543.9V366.7H541.7ZM541.7 352.2H543.9V359.4H541.7ZM112.9 344.9H115.1V352.2H112.9ZM539.4 344.9H541.7V352.2H539.4ZM539.4 337.7H541.7V344.9H539.4ZM99.4 330.5H101.6V337.7H99.4ZM106.1 323.2H108.4V330.5H106.1ZM528.2 323.2H530.4V330.5H528.2ZM537.2 323.2H539.4V330.5H537.2ZM534.9 308.8H537.2V316.0H534.9ZM146.5 287.0H148.8V294.3H146.5ZM133.1 243.6H135.3V250.8H133.1ZM186.9 229.1H189.2V236.4H186.9ZM195.9 221.9H202.7V229.1H195.9ZM310.4 214.7H323.9V221.9H310.4Z"/>
<path fill="#2b82f5" d="M79.2 453.5H81.4V460.8H79.2ZM79.2 446.3H81.4V453.5H79.2ZM99.4 446.3H106.1V453.5H99.4ZM115.1 439.0H117.4V446.3H115.1ZM88.2 402.8H92.7V410.1H88.2ZM528.2 402.8H534.9V410.1H528.2ZM106.1 395.6H108.4V402.8H106.1ZM517.0 395.6H519.2V402.8H517.0ZM534.9 395.6H537.2V402.8H534.9ZM534.9 388.4H537.2V395.6H534.9ZM532.7 373.9H534.9V381.1H532.7ZM512.5 366.7H514.7V373.9H512.5ZM532.7 366.7H534.9V373.9H532.7ZM117.4 359.4H119.6V366.7H117.4ZM530.4 359.4H532.7V366.7H530.4ZM519.2 352.2H521.5V359.4H519.2ZM530.4 352.2H532.7V359.4H530.4ZM525.9 337.7H530.4V344.9H525.9ZM101.6 323.2H103.9V330.5H101.6ZM135.3 294.3H137.6V301.5H135.3ZM171.2 221.9H173.5V229.1H171.2ZM204.9 214.7H218.4V221.9H204.9Z"/>
<path fill="#317cf2" d="M81.4 453.5H83.7V460.8H81.4ZM106.1 446.3H112.9V453.5H106.1ZM117.4 439.0H119.6V446.3H117.4ZM103.9 431.8H106.1V439.0H103.9ZM92.7 402.8H94.9V410.1H92.7ZM112.9 402.8H115.1V410.1H112.9ZM517.0 402.8H528.2V410.1H517.0ZM534.9 402.8H537.2V410.1H534.9ZM108.4 395.6H112.9V402.8H108.4ZM514.7 395.6H517.0V402.8H514.7ZM537.2 395.6H539.4V402.8H537.2ZM537.2 388.4H539.4V395.6H537.2ZM512.5 381.1H514.7V388.4H512.5ZM534.9 381.1H537.2V388.4H534.9ZM534.9 373.9H537.2V381.1H534.9ZM119.6 359.4H121.8V366.7H119.6ZM532.7 359.4H534.9V366.7H532.7ZM530.4 344.9H532.7V352.2H530.4ZM97.2 337.7H99.4V344.9H97.2ZM530.4 337.7H532.7V344.9H530.4ZM94.9 330.5H97.2V337.7H94.9ZM135.3 258.1H137.6V265.3H135.3ZM130.8 229.1H133.1V236.4H130.8ZM173.5 221.9H178.0V229.1H173.5ZM218.4 214.7H234.1V221.9H218.4Z"/>
<path fill="#3677ee" d="M83.7 453.5H94.9V460.8H83.7ZM112.9 446.3H115.1V453.5H112.9ZM90.4 439.0H92.7V446.3H90.4ZM119.6 439.0H121.8V446.3H119.6ZM101.6 431.8H103.9V439.0H101.6ZM97.2 417.3H99.4V424.6H97.2ZM528.2 410.1H539.4V417.3H528.2ZM76.9 402.8H79.2V410.1H76.9ZM94.9 402.8H97.2V410.1H94.9ZM108.4 402.8H110.6V410.1H108.4ZM537.2 402.8H539.4V410.1H537.2ZM539.4 395.6H541.7V402.8H539.4ZM537.2 381.1H539.4V388.4H537.2ZM534.9 366.7H537.2V373.9H534.9ZM121.8 359.4H124.1V366.7H121.8ZM514.7 359.4H517.0V366.7H514.7ZM534.9 359.4H537.2V366.7H534.9ZM144.3 352.2H146.5V359.4H144.3ZM532.7 352.2H534.9V359.4H532.7ZM126.3 344.9H128.6V352.2H126.3ZM521.5 344.9H523.7V352.2H521.5ZM532.7 344.9H534.9V352.2H532.7ZM528.2 330.5H532.7V337.7H528.2ZM117.4 308.8H119.6V316.0H117.4ZM130.8 236.4H133.1V243.6H130.8ZM178.0 221.9H180.2V229.1H178.0ZM234.1 214.7H249.8V221.9H234.1Z"/>
<path fill="#3b71ea" d="M94.9 453.5H103.9V460.8H94.9ZM99.4 431.8H101.6V439.0H99.4ZM119.6 431.8H121.8V439.0H119.6ZM537.2 417.3H539.4V424.6H537.2ZM79.2 410.1H83.7V417.3H79.2ZM115.1 410.1H117.4V417.3H115.1ZM519.2 410.1H528.2V417.3H519.2ZM539.4 410.1H541.7V417.3H539.4ZM97.2 402.8H101.6V410.1H97.2ZM539.4 402.8H541.7V410.1H539.4ZM539.4 388.4H541.7V395.6H539.4ZM117.4 381.1H119.6V388.4H117.4ZM539.4 381.1H541.7V388.4H539.4ZM119.6 373.9H121.8V381.1H119.6ZM510.2 373.9H512.5V381.1H510.2ZM537.2 373.9H539.4V381.1H537.2ZM510.2 366.7H512.5V373.9H510.2ZM537.2 366.7H539.4V373.9H537.2ZM124.1 359.4H126.3V366.7H124.1ZM517.0 352.2H519.2V359.4H517.0ZM534.9 352.2H537.2V359.4H534.9ZM523.7 337.7H525.9V344.9H523.7ZM532.7 337.7H534.9V344.9H532.7ZM532.7 330.5H534.9V337.7H532.7ZM103.9 323.2H106.1V330.5H103.9ZM110.6 316.0H112.9V323.2H110.6ZM144.3 287.0H146.5V294.3H144.3ZM157.8 229.1H175.7V236.4H157.8ZM180.2 221.9H184.7V229.1H180.2ZM249.8 214.7H263.3V221.9H249.8Z"/>
<path fill="#218dfd" d="M81.4 446.3H83.7V453.5H81.4ZM85.9 446.3H92.7V453.5H85.9ZM110.6 439.0H115.1V446.3H110.6ZM106.1 431.8H108.4V439.0H106.1ZM92.7 424.6H94.9V431.8H92.7ZM103.9 410.1H106.1V417.3H103.9ZM81.4 402.8H85.9V410.1H81.4ZM76.9 395.6H79.2V402.8H76.9ZM99.4 395.6H101.6V402.8H99.4ZM528.2 395.6H532.7V402.8H528.2ZM530.4 388.4H532.7V395.6H530.4ZM530.4 381.1H532.7V388.4H530.4ZM117.4 373.9H119.6V381.1H117.4ZM530.4 373.9H532.7V381.1H530.4ZM528.2 366.7H530.4V373.9H528.2ZM112.9 359.4H115.1V366.7H112.9ZM528.2 359.4H530.4V366.7H528.2ZM525.9 344.9H528.2V352.2H525.9ZM92.7 330.5H94.9V337.7H92.7ZM139.8 272.6H142.1V279.8H139.8ZM133.1 250.8H135.3V258.1H133.1ZM130.8 221.9H144.3V229.1H130.8ZM164.5 221.9H166.7V229.1H164.5ZM175.7 214.7H189.2V221.9H175.7Z"/>
<path fill="#1c93ff" d="M83.7 446.3H85.9V453.5H83.7ZM94.9 439.0H97.2V446.3H94.9ZM103.9 439.0H110.6V446.3H103.9ZM97.2 395.6H99.4V402.8H97.2ZM519.2 388.4H530.4V395.6H519.2ZM514.7 381.1H517.0V388.4H514.7ZM528.2 373.9H530.4V381.1H528.2ZM514.7 366.7H517.0V373.9H514.7ZM110.6 359.4H112.9V366.7H110.6ZM135.3 359.4H137.6V366.7H135.3ZM525.9 359.4H528.2V366.7H525.9ZM112.9 352.2H115.1V359.4H112.9ZM521.5 352.2H523.7V359.4H521.5ZM525.9 352.2H528.2V359.4H525.9ZM103.9 344.9H106.1V352.2H103.9ZM99.4 323.2H101.6V330.5H99.4ZM130.8 243.6H133.1V250.8H130.8ZM144.3 221.9H164.5V229.1H144.3ZM171.2 214.7H175.7V221.9H171.2Z"/>
<path fill="#2688f9" d="M92.7 446.3H99.4V453.5H92.7ZM92.7 439.0H94.9V446.3H92.7ZM117.4 431.8H119.6V439.0H117.4ZM79.2 402.8H81.4V410.1H79.2ZM85.9 402.8H88.2V410.1H85.9ZM101.6 395.6H106.1V402.8H101.6ZM519.2 395.6H528.2V402.8H519.2ZM532.7 395.6H534.9V402.8H532.7ZM112.9 388.4H115.1V395.6H112.9ZM514.7 388.4H517.0V395.6H514.7ZM532.7 388.4H534.9V395.6H532.7ZM115.1 381.1H117.4V388.4H115.1ZM532.7 381.1H534.9V388.4H532.7ZM512.5 373.9H514.7V381.1H512.5ZM530.4 366.7H532.7V373.9H530.4ZM115.1 359.4H117.4V366.7H115.1ZM517.0 359.4H519.2V366.7H517.0ZM119.6 352.2H121.8V359.4H119.6ZM528.2 352.2H530.4V359.4H528.2ZM124.1 344.9H126.3V352.2H124.1ZM523.7 344.9H525.9V352.2H523.7ZM528.2 344.9H530.4V352.2H528.2ZM108.4 316.0H110.6V323.2H108.4ZM115.1 308.8H117.4V316.0H115.1ZM124.1 301.5H126.3V308.8H124.1ZM142.1 287.0H144.3V294.3H142.1ZM166.7 221.9H171.2V229.1H166.7ZM189.2 214.7H204.9V221.9H189.2Z"/>
<path fill="#8220ed" d="M332.9 446.3H355.3V453.5H332.9ZM279.0 439.0H341.9V446.3H279.0ZM218.4 431.8H326.1V439.0H218.4ZM216.1 424.6H330.6V431.8H216.1ZM216.1 417.3H330.6V424.6H216.1ZM213.9 410.1H332.9V417.3H213.9ZM211.6 402.8H335.1V410.1H211.6ZM211.6 395.6H335.1V402.8H211.6ZM209.4 388.4H337.4V395.6H209.4ZM207.2 381.1H339.6V388.4H207.2ZM204.9 373.9H339.6V381.1H204.9ZM204.9 366.7H341.9V373.9H204.9ZM202.7 359.4H344.1V366.7H202.7ZM200.4 352.2H344.1V359.4H200.4ZM216.1 344.9H346.3V352.2H216.1ZM238.6 337.7H344.1V344.9H238.6ZM261.0 330.5H348.6V337.7H261.0ZM411.4 330.5H418.2V337.7H411.4ZM276.8 323.2H350.8V330.5H276.8ZM407.0 323.2H413.7V330.5H407.0ZM265.5 316.0H353.1V323.2H265.5ZM402.5 316.0H411.4V323.2H402.5ZM249.8 308.8H353.1V316.0H249.8ZM398.0 308.8H407.0V316.0H398.0ZM184.7 301.5H204.9V308.8H184.7ZM231.9 301.5H355.3V308.8H231.9ZM393.5 301.5H404.7V308.8H393.5ZM180.2 294.3H357.6V301.5H180.2ZM389.0 294.3H402.5V301.5H389.0ZM162.3 287.0H357.6V294.3H162.3ZM384.5 287.0H407.0V294.3H384.5ZM164.5 279.8H359.8V287.0H164.5ZM380.0 279.8H413.7V287.0H380.0ZM175.7 272.6H362.1V279.8H175.7ZM375.5 272.6H418.2V279.8H375.5ZM204.9 265.3H424.9V272.6H204.9ZM238.6 258.1H431.7V265.3H238.6ZM245.3 250.8H427.2V258.1H245.3ZM256.5 243.6H411.4V250.8H256.5ZM337.4 236.4H371.0V243.6H337.4Z"/>
<path fill="#189aff" d="M97.2 439.0H103.9V446.3H97.2ZM108.4 431.8H110.6V439.0H108.4ZM92.7 395.6H97.2V402.8H92.7ZM517.0 388.4H519.2V395.6H517.0ZM528.2 381.1H530.4V388.4H528.2ZM525.9 366.7H528.2V373.9H525.9ZM519.2 359.4H521.5V366.7H519.2ZM106.1 316.0H108.4V323.2H106.1ZM133.1 294.3H135.3V301.5H133.1ZM166.7 214.7H171.2V221.9H166.7Z"/>
<path fill="#0fa8ff" d="M110.6 431.8H115.1V439.0H110.6ZM99.4 417.3H101.6V424.6H99.4ZM110.6 402.8H112.9V410.1H110.6ZM88.2 395.6H90.4V402.8H88.2ZM103.9 388.4H108.4V395.6H103.9ZM110.6 388.4H112.9V395.6H110.6ZM112.9 381.1H115.1V388.4H112.9ZM519.2 381.1H521.5V388.4H519.2ZM523.7 373.9H525.9V381.1H523.7ZM517.0 366.7H519.2V373.9H517.0ZM523.7 366.7H525.9V373.9H523.7ZM97.2 323.2H99.4V330.5H97.2ZM121.8 301.5H124.1V308.8H121.8ZM160.0 214.7H162.3V221.9H160.0ZM234.1 207.4H249.8V214.7H234.1Z"/>
<path fill="#13a1ff" d="M115.1 431.8H117.4V439.0H115.1ZM115.1 424.6H117.4V431.8H115.1ZM79.2 395.6H81.4V402.8H79.2ZM90.4 395.6H92.7V402.8H90.4ZM521.5 381.1H528.2V388.4H521.5ZM514.7 373.9H517.0V381.1H514.7ZM525.9 373.9H528.2V381.1H525.9ZM115.1 366.7H117.4V373.9H115.1ZM523.7 359.4H525.9V366.7H523.7ZM523.7 352.2H525.9V359.4H523.7ZM115.1 344.9H117.4V352.2H115.1ZM121.8 344.9H124.1V352.2H121.8ZM112.9 308.8H115.1V316.0H112.9ZM139.8 287.0H142.1V294.3H139.8ZM162.3 214.7H166.7V221.9H162.3ZM249.8 207.4H265.5V214.7H249.8Z"/>
<path fill="#08c0ff" d="M94.9 424.6H97.2V431.8H94.9ZM106.1 410.1H108.4V417.3H106.1ZM92.7 388.4H94.9V395.6H92.7ZM108.4 388.4H110.6V395.6H108.4ZM101.6 344.9H103.9V352.2H101.6ZM90.4 330.5H92.7V337.7H90.4ZM94.9 323.2H97.2V330.5H94.9ZM101.6 316.0H103.9V323.2H101.6ZM119.6 301.5H121.8V308.8H119.6ZM133.1 258.1H135.3V265.3H133.1ZM173.5 207.4H189.2V214.7H173.5Z"/>
<path fill="#44c6fc" d="M97.2 424.6H99.4V431.8H97.2ZM101.6 417.3H103.9V424.6H101.6ZM115.1 417.3H117.4V424.6H115.1ZM97.2 381.1H99.4V388.4H97.2ZM121.8 352.2H124.1V359.4H121.8ZM99.4 316.0H101.6V323.2H99.4ZM106.1 308.8H108.4V316.0H106.1ZM142.1 207.4H144.3V214.7H142.1Z"/>
<path fill="#53c8fc" d="M99.4 424.6H101.6V431.8H99.4ZM92.7 381.1H97.2V388.4H92.7ZM76.9 373.9H79.2V381.1H76.9ZM133.1 359.4H135.3V366.7H133.1ZM92.7 337.7H94.9V344.9H92.7ZM117.4 301.5H119.6V308.8H117.4ZM126.3 236.4H128.6V243.6H126.3ZM128.6 207.4H142.1V214.7H128.6Z"/>
<path fill="#62cafb" d="M101.6 424.6H106.1V431.8H101.6ZM112.9 410.1H115.1V417.3H112.9ZM81.4 381.1H83.7V388.4H81.4ZM90.4 381.1H92.7V388.4H90.4ZM108.4 381.1H110.6V388.4H108.4ZM110.6 373.9H112.9V381.1H110.6ZM112.9 366.7H115.1V373.9H112.9ZM99.4 344.9H101.6V352.2H99.4ZM90.4 323.2H92.7V330.5H90.4ZM126.3 229.1H128.6V236.4H126.3Z"/>
<path fill="#71ccfb" d="M106.1 424.6H108.4V431.8H106.1ZM85.9 381.1H90.4V388.4H85.9ZM97.2 316.0H99.4V323.2H97.2ZM126.3 294.3H128.6V301.5H126.3ZM133.1 287.0H135.3V294.3H133.1ZM126.3 221.9H128.6V229.1H126.3Z"/>
<path fill="#80cdfa" d="M108.4 424.6H112.9V431.8H108.4ZM108.4 410.1H110.6V417.3H108.4ZM83.7 381.1H85.9V388.4H83.7ZM79.2 373.9H81.4V381.1H79.2ZM103.9 352.2H106.1V359.4H103.9ZM88.2 330.5H90.4V337.7H88.2ZM139.8 279.8H142.1V287.0H139.8ZM126.3 214.7H128.6V221.9H126.3Z"/>
<path fill="#8acffa" d="M112.9 424.6H115.1V431.8H112.9ZM97.2 373.9H101.6V381.1H97.2ZM76.9 366.7H79.2V373.9H76.9ZM128.6 359.4H130.8V366.7H128.6ZM88.2 323.2H90.4V330.5H88.2ZM103.9 308.8H106.1V316.0H103.9ZM133.1 265.3H135.3V272.6H133.1ZM126.3 207.4H128.6V214.7H126.3Z"/>
<path fill="#9fd6fa" d="M103.9 417.3H106.1V424.6H103.9ZM88.2 373.9H92.7V381.1H88.2ZM101.6 373.9H103.9V381.1H101.6ZM79.2 366.7H81.4V373.9H79.2ZM130.8 287.0H133.1V294.3H130.8ZM137.6 279.8H139.8V287.0H137.6ZM126.3 243.6H128.6V250.8H126.3Z"/>
<path fill="#cde9f8" d="M106.1 417.3H108.4V424.6H106.1ZM81.4 323.2H83.7V330.5H81.4ZM119.6 294.3H121.8V301.5H119.6ZM112.9 229.1H115.1V236.4H112.9Z"/>
<path fill="#f4fbe2" d="M108.4 417.3H112.9V424.6H108.4ZM106.1 359.4H108.4V366.7H106.1ZM76.9 337.7H79.2V344.9H76.9ZM83.7 316.0H85.9V323.2H83.7ZM133.1 272.6H135.3V279.8H133.1ZM99.4 258.1H101.6V265.3H99.4Z"/>
<path fill="#c7e6f9" d="M112.9 417.3H115.1V424.6H112.9ZM85.9 366.7H90.4V373.9H85.9ZM81.4 359.4H83.7V366.7H81.4ZM76.9 352.2H79.2V359.4H76.9ZM99.4 308.8H101.6V316.0H99.4Z"/>
<path fill="#b4ddfa" d="M110.6 410.1H112.9V417.3H110.6ZM97.2 366.7H99.4V373.9H97.2ZM112.9 301.5H115.1V308.8H112.9ZM121.8 294.3H124.1V301.5H121.8ZM135.3 272.6H137.6V279.8H135.3ZM124.1 221.9H126.3V229.1H124.1Z"/>
<path fill="#06b5ff" d="M81.4 395.6H83.7V402.8H81.4ZM97.2 388.4H101.6V395.6H97.2ZM521.5 373.9H523.7V381.1H521.5ZM126.3 359.4H128.6V366.7H126.3ZM108.4 352.2H110.6V359.4H108.4ZM110.6 308.8H112.9V316.0H110.6ZM135.3 265.3H137.6V272.6H135.3ZM128.6 229.1H130.8V236.4H128.6ZM128.6 221.9H130.8V229.1H128.6ZM153.3 214.7H155.5V221.9H153.3ZM204.9 207.4H220.6V214.7H204.9Z"/>
<path fill="#0baeff" d="M83.7 395.6H88.2V402.8H83.7ZM76.9 388.4H79.2V395.6H76.9ZM101.6 388.4H103.9V395.6H101.6ZM517.0 381.1H519.2V388.4H517.0ZM115.1 373.9H117.4V381.1H115.1ZM521.5 366.7H523.7V373.9H521.5ZM521.5 359.4H523.7V366.7H521.5ZM110.6 352.2H112.9V359.4H110.6ZM94.9 337.7H97.2V344.9H94.9ZM103.9 316.0H106.1V323.2H103.9ZM142.1 279.8H144.3V287.0H142.1ZM128.6 236.4H130.8V243.6H128.6ZM155.5 214.7H160.0V221.9H155.5ZM220.6 207.4H234.1V214.7H220.6Z"/>
<path fill="#02bcff" d="M79.2 388.4H81.4V395.6H79.2ZM94.9 388.4H97.2V395.6H94.9ZM517.0 373.9H521.5V381.1H517.0ZM519.2 366.7H521.5V373.9H519.2ZM106.1 352.2H108.4V359.4H106.1ZM142.1 352.2H144.3V359.4H142.1ZM119.6 344.9H121.8V352.2H119.6ZM130.8 294.3H133.1V301.5H130.8ZM137.6 287.0H139.8V294.3H137.6ZM128.6 214.7H153.3V221.9H128.6ZM189.2 207.4H204.9V214.7H189.2Z"/>
<path fill="#26c3fe" d="M81.4 388.4H83.7V395.6H81.4ZM85.9 388.4H88.2V395.6H85.9ZM101.6 381.1H106.1V388.4H101.6ZM128.6 243.6H130.8V250.8H128.6ZM148.8 207.4H160.0V214.7H148.8Z"/>
<path fill="#35c5fd" d="M83.7 388.4H85.9V395.6H83.7ZM79.2 381.1H81.4V388.4H79.2ZM99.4 381.1H101.6V388.4H99.4ZM117.4 344.9H119.6V352.2H117.4ZM92.7 323.2H94.9V330.5H92.7ZM128.6 294.3H130.8V301.5H128.6ZM135.3 287.0H137.6V294.3H135.3ZM137.6 272.6H139.8V279.8H137.6ZM130.8 250.8H133.1V258.1H130.8ZM144.3 207.4H148.8V214.7H144.3Z"/>
<path fill="#17c2fe" d="M88.2 388.4H92.7V395.6H88.2ZM76.9 381.1H79.2V388.4H76.9ZM110.6 381.1H112.9V388.4H110.6ZM112.9 373.9H115.1V381.1H112.9ZM108.4 308.8H110.6V316.0H108.4ZM160.0 207.4H173.5V214.7H160.0Z"/>
<path fill="#91d2fa" d="M106.1 381.1H108.4V388.4H106.1ZM81.4 373.9H83.7V381.1H81.4ZM94.9 373.9H97.2V381.1H94.9ZM139.8 352.2H142.1V359.4H139.8ZM94.9 316.0H97.2V323.2H94.9ZM115.1 301.5H117.4V308.8H115.1Z"/>
<path fill="#a6d9fa" d="M83.7 373.9H88.2V381.1H83.7ZM76.9 359.4H79.2V366.7H76.9ZM90.4 337.7H92.7V344.9H90.4ZM85.9 323.2H88.2V330.5H85.9ZM92.7 316.0H94.9V323.2H92.7ZM101.6 308.8H103.9V316.0H101.6ZM124.1 236.4H126.3V243.6H124.1Z"/>
<path fill="#98d4fa" d="M92.7 373.9H94.9V381.1H92.7ZM108.4 373.9H110.6V381.1H108.4ZM110.6 366.7H112.9V373.9H110.6ZM108.4 359.4H110.6V366.7H108.4ZM124.1 294.3H126.3V301.5H124.1ZM130.8 258.1H133.1V265.3H130.8Z"/>
<path fill="#d2edf7" d="M103.9 373.9H106.1V381.1H103.9ZM79.2 352.2H81.4V359.4H79.2ZM88.2 316.0H90.4V323.2H88.2ZM110.6 301.5H112.9V308.8H110.6ZM126.3 287.0H128.6V294.3H126.3ZM117.4 221.9H119.6V229.1H117.4ZM121.8 214.7H124.1V221.9H121.8Z"/>
<path fill="#bbe0fa" d="M106.1 373.9H108.4V381.1H106.1ZM92.7 366.7H97.2V373.9H92.7ZM108.4 366.7H110.6V373.9H108.4ZM79.2 359.4H81.4V366.7H79.2ZM130.8 359.4H133.1V366.7H130.8ZM85.9 330.5H88.2V337.7H85.9ZM83.7 323.2H85.9V330.5H83.7ZM128.6 287.0H130.8V294.3H128.6ZM135.3 279.8H137.6V287.0H135.3ZM124.1 214.7H126.3V221.9H124.1ZM124.1 207.4H126.3V214.7H124.1Z"/>
<path fill="#addbfa" d="M81.4 366.7H83.7V373.9H81.4ZM128.6 250.8H130.8V258.1H128.6ZM124.1 229.1H126.3V236.4H124.1Z"/>
<path fill="#c1e3fa" d="M83.7 366.7H85.9V373.9H83.7ZM90.4 366.7H92.7V373.9H90.4ZM124.1 352.2H126.3V359.4H124.1ZM90.4 316.0H92.7V323.2H90.4Z"/>
<path fill="#effae7" d="M99.4 366.7H101.6V373.9H99.4ZM103.9 366.7H106.1V373.9H103.9ZM83.7 352.2H85.9V359.4H83.7ZM108.4 301.5H110.6V308.8H108.4ZM130.8 279.8H133.1V287.0H130.8Z"/>
<path fill="#fff9b1" d="M101.6 366.7H103.9V373.9H101.6ZM76.9 330.5H79.2V337.7H76.9ZM92.7 272.6H94.9V279.8H92.7ZM97.2 265.3H99.4V272.6H97.2ZM101.6 258.1H103.9V265.3H101.6ZM119.6 236.4H121.8V243.6H119.6Z"/>
<path fill="#d8f0f6" d="M106.1 366.7H108.4V373.9H106.1ZM83.7 359.4H85.9V366.7H83.7ZM88.2 337.7H90.4V344.9H88.2ZM133.1 279.8H135.3V287.0H133.1ZM130.8 265.3H133.1V272.6H130.8ZM124.1 243.6H126.3V250.8H124.1Z"/>
<path fill="#e4f6f2" d="M85.9 359.4H92.7V366.7H85.9ZM94.9 359.4H97.2V366.7H94.9ZM81.4 352.2H83.7V359.4H81.4ZM85.9 316.0H88.2V323.2H85.9ZM97.2 308.8H99.4V316.0H97.2ZM117.4 294.3H119.6V301.5H117.4ZM106.1 243.6H108.4V250.8H106.1ZM110.6 236.4H112.9V243.6H110.6ZM115.1 229.1H117.4V236.4H115.1ZM121.8 221.9H124.1V229.1H121.8Z"/>
<path fill="#def3f5" d="M92.7 359.4H94.9V366.7H92.7ZM137.6 352.2H139.8V359.4H137.6ZM76.9 344.9H79.2V352.2H76.9ZM128.6 258.1H130.8V265.3H128.6ZM121.8 236.4H124.1V243.6H121.8ZM121.8 229.1H124.1V236.4H121.8Z"/>
<path fill="#ffd121" d="M97.2 359.4H99.4V366.7H97.2ZM101.6 301.5H103.9V308.8H101.6ZM88.2 287.0H90.4V294.3H88.2ZM92.7 279.8H94.9V287.0H92.7ZM97.2 272.6H99.4V279.8H97.2Z"/>
<path fill="#ffcb1d" d="M99.4 359.4H101.6V366.7H99.4ZM108.4 294.3H110.6V301.5H108.4ZM101.6 265.3H103.9V272.6H101.6ZM106.1 258.1H108.4V265.3H106.1ZM110.6 250.8H112.9V258.1H110.6Z"/>
<path fill="#ffe654" d="M101.6 359.4H103.9V366.7H101.6ZM103.9 258.1H106.1V265.3H103.9ZM108.4 250.8H110.6V258.1H108.4ZM112.9 243.6H115.1V250.8H112.9Z"/>
<path fill="#fff69e" d="M103.9 359.4H106.1V366.7H103.9ZM81.4 337.7H83.7V344.9H81.4ZM81.4 316.0H83.7V323.2H81.4ZM83.7 287.0H85.9V294.3H83.7ZM88.2 279.8H90.4V287.0H88.2ZM106.1 250.8H108.4V258.1H106.1ZM110.6 243.6H112.9V250.8H110.6ZM121.8 243.6H124.1V250.8H121.8ZM115.1 236.4H117.4V243.6H115.1ZM119.6 229.1H121.8V236.4H119.6Z"/>
<path fill="#ffffd7" d="M85.9 352.2H88.2V359.4H85.9ZM90.4 352.2H92.7V359.4H90.4ZM101.6 352.2H103.9V359.4H101.6ZM94.9 308.8H97.2V316.0H94.9ZM115.1 294.3H117.4V301.5H115.1ZM121.8 287.0H124.1V294.3H121.8ZM94.9 265.3H97.2V272.6H94.9ZM117.4 229.1H119.6V236.4H117.4Z"/>
<path fill="#fffcc4" d="M88.2 352.2H90.4V359.4H88.2ZM126.3 352.2H128.6V359.4H126.3ZM83.7 344.9H85.9V352.2H83.7ZM79.2 337.7H81.4V344.9H79.2ZM85.9 337.7H88.2V344.9H85.9ZM106.1 301.5H108.4V308.8H106.1ZM128.6 279.8H130.8V287.0H128.6Z"/>
<path fill="#ffe242" d="M92.7 352.2H94.9V359.4H92.7ZM79.2 316.0H81.4V323.2H79.2ZM110.6 294.3H112.9V301.5H110.6ZM117.4 236.4H119.6V243.6H117.4Z"/>
<path fill="#ff7f00" d="M94.9 352.2H97.2V359.4H94.9ZM83.7 308.8H85.9V316.0H83.7ZM94.9 301.5H97.2V308.8H94.9ZM101.6 294.3H103.9V301.5H101.6ZM92.7 287.0H94.9V294.3H92.7ZM106.1 265.3H108.4V272.6H106.1ZM110.6 258.1H112.9V265.3H110.6Z"/>
<path fill="#ff8d00" d="M97.2 352.2H99.4V359.4H97.2ZM90.4 344.9H92.7V352.2H90.4ZM117.4 279.8H119.6V287.0H117.4ZM124.1 272.6H126.3V279.8H124.1Z"/>
<path fill="#ffae07" d="M99.4 352.2H101.6V359.4H99.4ZM81.4 301.5H83.7V308.8H81.4ZM90.4 287.0H92.7V294.3H90.4ZM112.9 287.0H115.1V294.3H112.9ZM94.9 279.8H97.2V287.0H94.9ZM119.6 279.8H121.8V287.0H119.6ZM99.4 272.6H101.6V279.8H99.4ZM124.1 258.1H126.3V265.3H124.1Z"/>
<path fill="#ffbf14" d="M128.6 352.2H130.8V359.4H128.6ZM88.2 308.8H90.4V316.0H88.2ZM128.6 272.6H130.8V279.8H128.6Z"/>
<path fill="#ff9b00" d="M130.8 352.2H133.1V359.4H130.8ZM97.2 301.5H99.4V308.8H97.2ZM103.9 294.3H106.1V301.5H103.9Z"/>
<path fill="#ffba10" d="M133.1 352.2H135.3V359.4H133.1ZM74.7 316.0H76.9V323.2H74.7ZM121.8 250.8H124.1V258.1H121.8Z"/>
<path fill="#fff078" d="M135.3 352.2H137.6V359.4H135.3ZM79.2 330.5H81.4V337.7H79.2ZM92.7 308.8H94.9V316.0H92.7ZM85.9 287.0H88.2V294.3H85.9ZM126.3 279.8H128.6V287.0H126.3ZM126.3 258.1H128.6V265.3H126.3Z"/>
<path fill="#e9f8ed" d="M79.2 344.9H81.4V352.2H79.2ZM97.2 344.9H99.4V352.2H97.2ZM83.7 330.5H85.9V337.7H83.7ZM124.1 287.0H126.3V294.3H124.1ZM126.3 250.8H128.6V258.1H126.3ZM119.6 221.9H121.8V229.1H119.6Z"/>
<path fill="#fafddc" d="M81.4 344.9H83.7V352.2H81.4ZM79.2 323.2H81.4V330.5H79.2ZM103.9 250.8H106.1V258.1H103.9ZM108.4 243.6H110.6V250.8H108.4ZM112.9 236.4H115.1V243.6H112.9Z"/>
<path fill="#fff38b" d="M85.9 344.9H88.2V352.2H85.9ZM81.4 330.5H83.7V337.7H81.4ZM112.9 294.3H115.1V301.5H112.9ZM119.6 287.0H121.8V294.3H119.6ZM128.6 265.3H130.8V272.6H128.6Z"/>
<path fill="#ffec65" d="M88.2 344.9H90.4V352.2H88.2ZM83.7 337.7H85.9V344.9H83.7ZM76.9 323.2H79.2V330.5H76.9ZM103.9 301.5H106.1V308.8H103.9ZM81.4 294.3H83.7V301.5H81.4ZM90.4 279.8H92.7V287.0H90.4ZM94.9 272.6H97.2V279.8H94.9ZM99.4 265.3H101.6V272.6H99.4ZM124.1 250.8H126.3V258.1H124.1Z"/>
<path fill="#ff3c00" d="M92.7 344.9H94.9V352.2H92.7ZM117.4 250.8H119.6V258.1H117.4Z"/>
<path fill="#ffb40b" d="M94.9 344.9H97.2V352.2H94.9ZM79.2 308.8H81.4V316.0H79.2ZM99.4 301.5H101.6V308.8H99.4ZM106.1 294.3H108.4V301.5H106.1ZM126.3 265.3H128.6V272.6H126.3Z"/>
<path fill="#ffc518" d="M76.9 316.0H79.2V323.2H76.9ZM115.1 287.0H117.4V294.3H115.1ZM121.8 279.8H124.1V287.0H121.8ZM115.1 243.6H117.4V250.8H115.1ZM119.6 243.6H121.8V250.8H119.6Z"/>
<path fill="#ff5200" d="M81.4 308.8H83.7V316.0H81.4ZM83.7 301.5H85.9V308.8H83.7ZM99.4 294.3H101.6V301.5H99.4ZM106.1 287.0H108.4V294.3H106.1ZM99.4 279.8H101.6V287.0H99.4ZM103.9 272.6H106.1V279.8H103.9Z"/>
<path fill="#ffa200" d="M85.9 308.8H88.2V316.0H85.9ZM112.9 250.8H115.1V258.1H112.9ZM117.4 243.6H119.6V250.8H117.4Z"/>
<path fill="#ffd726" d="M90.4 308.8H92.7V316.0H90.4ZM83.7 294.3H85.9V301.5H83.7ZM130.8 272.6H133.1V279.8H130.8Z"/>
<path fill="#f70000" d="M85.9 301.5H88.2V308.8H85.9ZM94.9 294.3H97.2V301.5H94.9ZM101.6 279.8H103.9V287.0H101.6ZM119.6 258.1H121.8V265.3H119.6Z"/>
<path fill="#fa0500" d="M88.2 301.5H90.4V308.8H88.2ZM106.1 272.6H108.4V279.8H106.1ZM110.6 265.3H112.9V272.6H110.6ZM115.1 258.1H117.4V265.3H115.1Z"/>
<path fill="#fe3100" d="M90.4 301.5H92.7V308.8H90.4ZM94.9 287.0H97.2V294.3H94.9Z"/>
<path fill="#ff5d00" d="M92.7 301.5H94.9V308.8H92.7ZM121.8 258.1H124.1V265.3H121.8Z"/>
<path fill="#ffa802" d="M85.9 294.3H88.2V301.5H85.9ZM126.3 272.6H128.6V279.8H126.3ZM103.9 265.3H106.1V272.6H103.9ZM108.4 258.1H110.6V265.3H108.4Z"/>
<path fill="#ff6800" d="M88.2 294.3H90.4V301.5H88.2ZM124.1 265.3H126.3V272.6H124.1Z"/>
<path fill="#fb1000" d="M90.4 294.3H92.7V301.5H90.4ZM117.4 272.6H119.6V279.8H117.4Z"/>
<path fill="#e00000" d="M92.7 294.3H94.9V301.5H92.7Z"/>
<path fill="#fd2600" d="M97.2 294.3H99.4V301.5H97.2ZM103.9 287.0H106.1V294.3H103.9Z"/>
<path fill="#e60000" d="M97.2 287.0H99.4V294.3H97.2Z"/>
<path fill="#db0000" d="M99.4 287.0H101.6V294.3H99.4ZM106.1 279.8H108.4V287.0H106.1ZM112.9 265.3H115.1V272.6H112.9ZM117.4 258.1H119.6V265.3H117.4Z"/>
<path fill="#f10000" d="M101.6 287.0H103.9V294.3H101.6ZM108.4 279.8H110.6V287.0H108.4Z"/>
<path fill="#ff7800" d="M108.4 287.0H110.6V294.3H108.4ZM115.1 250.8H117.4V258.1H115.1ZM119.6 250.8H121.8V258.1H119.6Z"/>
<path fill="#ff9400" d="M110.6 287.0H112.9V294.3H110.6Z"/>
<path fill="#ffdc31" d="M117.4 287.0H119.6V294.3H117.4ZM124.1 279.8H126.3V287.0H124.1Z"/>
<path fill="#ff8600" d="M97.2 279.8H99.4V287.0H97.2ZM101.6 272.6H103.9V279.8H101.6Z"/>
<path fill="#ca0506" d="M103.9 279.8H106.1V287.0H103.9Z"/>
<path fill="#fc1b00" d="M110.6 279.8H112.9V287.0H110.6Z"/>
<path fill="#ff4700" d="M112.9 279.8H115.1V287.0H112.9ZM119.6 272.6H121.8V279.8H119.6ZM108.4 265.3H110.6V272.6H108.4ZM112.9 258.1H115.1V265.3H112.9Z"/>
<path fill="#ff7100" d="M115.1 279.8H117.4V287.0H115.1ZM121.8 272.6H124.1V279.8H121.8Z"/>
<path fill="#d50000" d="M108.4 272.6H110.6V279.8H108.4ZM112.9 272.6H115.1V279.8H112.9Z"/>
<path fill="#c10a0e" d="M110.6 272.6H112.9V279.8H110.6Z"/>
<path fill="#ec0000" d="M115.1 272.6H117.4V279.8H115.1ZM121.8 265.3H124.1V272.6H121.8Z"/>
<path fill="#bc0d12" d="M115.1 265.3H119.6V272.6H115.1Z"/>
<path fill="#d00202" d="M119.6 265.3H121.8V272.6H119.6Z"/>
<rect x="126.0" y="200.2" width="2.2" height="7.2" fill="#8acffa"/>
<rect x="568.6" y="533.1" width="2.2" height="7.2" fill="#0000c6"/>
</g>
<polygon points="70,560 70,527 82.0,527.0 83.1,525.4 113.8,503.4 119.2,496.9 126.2,483.8 130.8,480.3 148.5,467.7 160.0,466.2 173.8,465.4 186.2,460.8 207.7,448.5 220.0,442.3 240.0,439.5 247.8,438.5 275.8,432.3 282.7,429.7 296.5,433.1 305.8,434.6 330.4,434.6 343.1,437.7 360.0,443.8 372.3,450.0 384.6,459.2 400.0,470.0 412.3,476.9 423.4,484.6 440.8,500.0 450.0,507.2 467.2,516.9 480.0,522.8 495.1,529.2 495.1,533.1 495.1,560" fill="#fff"/>
<circle cx="118.9" cy="240.1" r="3.4" fill="none" stroke="#fff" stroke-opacity="0.92" stroke-width="0.95"/>
<circle cx="119.2" cy="266.1" r="3.4" fill="none" stroke="#fff" stroke-opacity="0.92" stroke-width="0.95"/>
<circle cx="135.8" cy="245.8" r="3.4" fill="none" stroke="#fff" stroke-opacity="0.92" stroke-width="0.95"/>
<circle cx="144.6" cy="270.1" r="3.4" fill="none" stroke="#fff" stroke-opacity="0.92" stroke-width="0.95"/>
<circle cx="82.2" cy="300.0" r="3.4" fill="none" stroke="#fff" stroke-opacity="0.92" stroke-width="0.95"/>
<circle cx="85.3" cy="308.0" r="3.4" fill="none" stroke="#fff" stroke-opacity="0.92" stroke-width="0.95"/>
<circle cx="76.0" cy="322.7" r="3.4" fill="none" stroke="#fff" stroke-opacity="0.92" stroke-width="0.95"/>
<circle cx="156.5" cy="295.5" r="3.4" fill="none" stroke="#fff" stroke-opacity="0.92" stroke-width="0.95"/>
<circle cx="162.3" cy="295.5" r="3.4" fill="none" stroke="#fff" stroke-opacity="0.92" stroke-width="0.95"/>
<circle cx="105.8" cy="342.0" r="3.4" fill="none" stroke="#fff" stroke-opacity="0.92" stroke-width="0.95"/>
<circle cx="99.7" cy="347.7" r="3.4" fill="none" stroke="#fff" stroke-opacity="0.92" stroke-width="0.95"/>
<circle cx="89.2" cy="348.2" r="3.4" fill="none" stroke="#fff" stroke-opacity="0.92" stroke-width="0.95"/>
<circle cx="143.8" cy="338.9" r="3.4" fill="none" stroke="#fff" stroke-opacity="0.92" stroke-width="0.95"/>
<circle cx="145.7" cy="341.2" r="3.4" fill="none" stroke="#fff" stroke-opacity="0.92" stroke-width="0.95"/>
<circle cx="151.8" cy="345.4" r="3.4" fill="none" stroke="#fff" stroke-opacity="0.92" stroke-width="0.95"/>
<circle cx="152.6" cy="352.6" r="3.4" fill="none" stroke="#fff" stroke-opacity="0.92" stroke-width="0.95"/>
<circle cx="138.9" cy="349.5" r="3.4" fill="none" stroke="#fff" stroke-opacity="0.92" stroke-width="0.95"/>
<circle cx="132.0" cy="356.3" r="3.4" fill="none" stroke="#fff" stroke-opacity="0.92" stroke-width="0.95"/>
<circle cx="125.1" cy="363.1" r="3.4" fill="none" stroke="#fff" stroke-opacity="0.92" stroke-width="0.95"/>
<circle cx="130.8" cy="372.0" r="3.4" fill="none" stroke="#fff" stroke-opacity="0.92" stroke-width="0.95"/>
<circle cx="124.2" cy="379.2" r="3.4" fill="none" stroke="#fff" stroke-opacity="0.92" stroke-width="0.95"/>
<circle cx="112.9" cy="401.5" r="3.4" fill="none" stroke="#fff" stroke-opacity="0.92" stroke-width="0.95"/>
<circle cx="112.3" cy="418.9" r="3.4" fill="none" stroke="#fff" stroke-opacity="0.92" stroke-width="0.95"/>
<circle cx="120.0" cy="423.1" r="3.4" fill="none" stroke="#fff" stroke-opacity="0.92" stroke-width="0.95"/>
<circle cx="114.9" cy="433.4" r="3.4" fill="none" stroke="#fff" stroke-opacity="0.92" stroke-width="0.95"/>
<circle cx="77.8" cy="440.1" r="3.4" fill="none" stroke="#fff" stroke-opacity="0.92" stroke-width="0.95"/>
<circle cx="79.9" cy="451.5" r="3.4" fill="none" stroke="#fff" stroke-opacity="0.92" stroke-width="0.95"/>
<circle cx="110.0" cy="465.4" r="3.4" fill="none" stroke="#fff" stroke-opacity="0.92" stroke-width="0.95"/>
<circle cx="147.7" cy="461.8" r="3.4" fill="none" stroke="#fff" stroke-opacity="0.92" stroke-width="0.95"/>
<circle cx="127.7" cy="476.9" r="3.4" fill="none" stroke="#fff" stroke-opacity="0.92" stroke-width="0.95"/>
<circle cx="117.4" cy="493.5" r="3.4" fill="none" stroke="#fff" stroke-opacity="0.92" stroke-width="0.95"/>
<circle cx="111.5" cy="500.0" r="3.4" fill="none" stroke="#fff" stroke-opacity="0.92" stroke-width="0.95"/>
<circle cx="80.3" cy="522.3" r="3.4" fill="none" stroke="#fff" stroke-opacity="0.92" stroke-width="0.95"/>
<circle cx="182.9" cy="294.3" r="3.4" fill="none" stroke="#fff" stroke-opacity="0.92" stroke-width="0.95"/>
<circle cx="206.2" cy="295.7" r="3.4" fill="none" stroke="#fff" stroke-opacity="0.92" stroke-width="0.95"/>
<circle cx="241.6" cy="305.5" r="3.4" fill="none" stroke="#fff" stroke-opacity="0.92" stroke-width="0.95"/>
<circle cx="223.8" cy="328.0" r="3.4" fill="none" stroke="#fff" stroke-opacity="0.92" stroke-width="0.95"/>
<circle cx="213.8" cy="333.8" r="3.4" fill="none" stroke="#fff" stroke-opacity="0.92" stroke-width="0.95"/>
<circle cx="190.8" cy="338.5" r="3.4" fill="none" stroke="#fff" stroke-opacity="0.92" stroke-width="0.95"/>
<circle cx="168.8" cy="339.2" r="3.4" fill="none" stroke="#fff" stroke-opacity="0.92" stroke-width="0.95"/>
<circle cx="177.7" cy="351.8" r="3.4" fill="none" stroke="#fff" stroke-opacity="0.92" stroke-width="0.95"/>
<circle cx="200.5" cy="353.4" r="3.4" fill="none" stroke="#fff" stroke-opacity="0.92" stroke-width="0.95"/>
<circle cx="256.5" cy="248.4" r="3.4" fill="none" stroke="#fff" stroke-opacity="0.92" stroke-width="0.95"/>
<circle cx="264.6" cy="246.2" r="3.4" fill="none" stroke="#fff" stroke-opacity="0.92" stroke-width="0.95"/>
<circle cx="269.5" cy="245.0" r="3.4" fill="none" stroke="#fff" stroke-opacity="0.92" stroke-width="0.95"/>
<circle cx="273.1" cy="246.2" r="3.4" fill="none" stroke="#fff" stroke-opacity="0.92" stroke-width="0.95"/>
<circle cx="275.7" cy="247.8" r="3.4" fill="none" stroke="#fff" stroke-opacity="0.92" stroke-width="0.95"/>
<circle cx="274.6" cy="249.9" r="3.4" fill="none" stroke="#fff" stroke-opacity="0.92" stroke-width="0.95"/>
<circle cx="292.0" cy="257.0" r="3.4" fill="none" stroke="#fff" stroke-opacity="0.92" stroke-width="0.95"/>
<circle cx="314.9" cy="256.5" r="3.4" fill="none" stroke="#fff" stroke-opacity="0.92" stroke-width="0.95"/>
<circle cx="320.0" cy="254.7" r="3.4" fill="none" stroke="#fff" stroke-opacity="0.92" stroke-width="0.95"/>
<circle cx="323.8" cy="264.7" r="3.4" fill="none" stroke="#fff" stroke-opacity="0.92" stroke-width="0.95"/>
<circle cx="338.6" cy="256.5" r="3.4" fill="none" stroke="#fff" stroke-opacity="0.92" stroke-width="0.95"/>
<circle cx="276.9" cy="312.7" r="3.4" fill="none" stroke="#fff" stroke-opacity="0.92" stroke-width="0.95"/>
<circle cx="275.7" cy="314.2" r="3.4" fill="none" stroke="#fff" stroke-opacity="0.92" stroke-width="0.95"/>
<circle cx="275.8" cy="321.8" r="3.4" fill="none" stroke="#fff" stroke-opacity="0.92" stroke-width="0.95"/>
<circle cx="300.5" cy="316.2" r="3.4" fill="none" stroke="#fff" stroke-opacity="0.92" stroke-width="0.95"/>
<circle cx="232.6" cy="269.3" r="3.4" fill="none" stroke="#fff" stroke-opacity="0.92" stroke-width="0.95"/>
<circle cx="345.1" cy="258.4" r="3.4" fill="none" stroke="#fff" stroke-opacity="0.92" stroke-width="0.95"/>
<circle cx="360.8" cy="267.0" r="3.4" fill="none" stroke="#fff" stroke-opacity="0.92" stroke-width="0.95"/>
<circle cx="376.6" cy="273.9" r="3.4" fill="none" stroke="#fff" stroke-opacity="0.92" stroke-width="0.95"/>
<circle cx="366.9" cy="324.5" r="3.4" fill="none" stroke="#fff" stroke-opacity="0.92" stroke-width="0.95"/>
<circle cx="350.5" cy="328.5" r="3.4" fill="none" stroke="#fff" stroke-opacity="0.92" stroke-width="0.95"/>
<circle cx="380.0" cy="328.4" r="3.4" fill="none" stroke="#fff" stroke-opacity="0.92" stroke-width="0.95"/>
<circle cx="399.5" cy="330.8" r="3.4" fill="none" stroke="#fff" stroke-opacity="0.92" stroke-width="0.95"/>
<circle cx="413.8" cy="336.5" r="3.4" fill="none" stroke="#fff" stroke-opacity="0.92" stroke-width="0.95"/>
<circle cx="356.6" cy="337.3" r="3.4" fill="none" stroke="#fff" stroke-opacity="0.92" stroke-width="0.95"/>
<circle cx="333.0" cy="343.8" r="3.4" fill="none" stroke="#fff" stroke-opacity="0.92" stroke-width="0.95"/>
<circle cx="327.1" cy="329.0" r="3.4" fill="none" stroke="#fff" stroke-opacity="0.92" stroke-width="0.95"/>
<circle cx="373.1" cy="360.8" r="3.4" fill="none" stroke="#fff" stroke-opacity="0.92" stroke-width="0.95"/>
<circle cx="395.7" cy="377.6" r="3.4" fill="none" stroke="#fff" stroke-opacity="0.92" stroke-width="0.95"/>
<circle cx="403.5" cy="376.5" r="3.4" fill="none" stroke="#fff" stroke-opacity="0.92" stroke-width="0.95"/>
<circle cx="390.8" cy="385.8" r="3.4" fill="none" stroke="#fff" stroke-opacity="0.92" stroke-width="0.95"/>
<circle cx="408.8" cy="384.2" r="3.4" fill="none" stroke="#fff" stroke-opacity="0.92" stroke-width="0.95"/>
<circle cx="420.4" cy="385.6" r="3.4" fill="none" stroke="#fff" stroke-opacity="0.92" stroke-width="0.95"/>
<circle cx="428.6" cy="393.6" r="3.4" fill="none" stroke="#fff" stroke-opacity="0.92" stroke-width="0.95"/>
<circle cx="392.6" cy="408.1" r="3.4" fill="none" stroke="#fff" stroke-opacity="0.92" stroke-width="0.95"/>
<circle cx="434.6" cy="352.7" r="3.4" fill="none" stroke="#fff" stroke-opacity="0.92" stroke-width="0.95"/>
<circle cx="479.7" cy="354.2" r="3.4" fill="none" stroke="#fff" stroke-opacity="0.92" stroke-width="0.95"/>
<circle cx="456.2" cy="366.1" r="3.4" fill="none" stroke="#fff" stroke-opacity="0.92" stroke-width="0.95"/>
<circle cx="502.6" cy="369.2" r="3.4" fill="none" stroke="#fff" stroke-opacity="0.92" stroke-width="0.95"/>
<circle cx="518.7" cy="376.5" r="3.4" fill="none" stroke="#fff" stroke-opacity="0.92" stroke-width="0.95"/>
<circle cx="524.3" cy="380.1" r="3.4" fill="none" stroke="#fff" stroke-opacity="0.92" stroke-width="0.95"/>
<circle cx="441.1" cy="392.7" r="3.4" fill="none" stroke="#fff" stroke-opacity="0.92" stroke-width="0.95"/>
<circle cx="463.7" cy="405.8" r="3.4" fill="none" stroke="#fff" stroke-opacity="0.92" stroke-width="0.95"/>
<circle cx="450.3" cy="411.1" r="3.4" fill="none" stroke="#fff" stroke-opacity="0.92" stroke-width="0.95"/>
<circle cx="488.7" cy="409.4" r="3.4" fill="none" stroke="#fff" stroke-opacity="0.92" stroke-width="0.95"/>
<circle cx="509.6" cy="405.8" r="3.4" fill="none" stroke="#fff" stroke-opacity="0.92" stroke-width="0.95"/>
<circle cx="472.9" cy="425.7" r="3.4" fill="none" stroke="#fff" stroke-opacity="0.92" stroke-width="0.95"/>
<circle cx="497.4" cy="429.2" r="3.4" fill="none" stroke="#fff" stroke-opacity="0.92" stroke-width="0.95"/>
<circle cx="406.2" cy="464.3" r="3.4" fill="none" stroke="#fff" stroke-opacity="0.92" stroke-width="0.95"/>
<circle cx="424.6" cy="479.5" r="3.4" fill="none" stroke="#fff" stroke-opacity="0.92" stroke-width="0.95"/>
<circle cx="445.8" cy="498.5" r="3.4" fill="none" stroke="#fff" stroke-opacity="0.92" stroke-width="0.95"/>
<circle cx="469.0" cy="512.2" r="3.4" fill="none" stroke="#fff" stroke-opacity="0.92" stroke-width="0.95"/>
<circle cx="514.9" cy="430.8" r="3.4" fill="none" stroke="#fff" stroke-opacity="0.92" stroke-width="0.95"/>
<circle cx="529.7" cy="423.1" r="3.4" fill="none" stroke="#fff" stroke-opacity="0.92" stroke-width="0.95"/>
<circle cx="567.0" cy="430.0" r="3.4" fill="none" stroke="#fff" stroke-opacity="0.92" stroke-width="0.95"/>
<circle cx="494.2" cy="523.1" r="3.4" fill="none" stroke="#fff" stroke-opacity="0.92" stroke-width="0.95"/>
<circle cx="512.6" cy="517.8" r="3.4" fill="none" stroke="#fff" stroke-opacity="0.92" stroke-width="0.95"/>
<circle cx="173.8" cy="459.2" r="3.4" fill="none" stroke="#fff" stroke-opacity="0.92" stroke-width="0.95"/>
<circle cx="196.9" cy="448.5" r="3.4" fill="none" stroke="#fff" stroke-opacity="0.92" stroke-width="0.95"/>
<circle cx="219.2" cy="437.2" r="3.4" fill="none" stroke="#fff" stroke-opacity="0.92" stroke-width="0.95"/>
<circle cx="275.8" cy="427.7" r="3.4" fill="none" stroke="#fff" stroke-opacity="0.92" stroke-width="0.95"/>
<circle cx="281.9" cy="423.5" r="3.4" fill="none" stroke="#fff" stroke-opacity="0.92" stroke-width="0.95"/>
<circle cx="306.1" cy="429.2" r="3.4" fill="none" stroke="#fff" stroke-opacity="0.92" stroke-width="0.95"/>
<circle cx="330.1" cy="428.8" r="3.4" fill="none" stroke="#fff" stroke-opacity="0.92" stroke-width="0.95"/>
<circle cx="353.8" cy="435.7" r="3.4" fill="none" stroke="#fff" stroke-opacity="0.92" stroke-width="0.95"/>
<circle cx="370.8" cy="442.6" r="3.4" fill="none" stroke="#fff" stroke-opacity="0.92" stroke-width="0.95"/>
<circle cx="391.5" cy="455.4" r="3.4" fill="none" stroke="#fff" stroke-opacity="0.92" stroke-width="0.95"/>
<circle cx="285.8" cy="329.5" r="3.4" fill="none" stroke="#fff" stroke-opacity="0.92" stroke-width="0.95"/>
<circle cx="310.0" cy="334.9" r="3.4" fill="none" stroke="#fff" stroke-opacity="0.92" stroke-width="0.95"/>
<circle cx="548.5" cy="227.8" r="3.4" fill="none" stroke="#fff" stroke-opacity="0.92" stroke-width="0.95"/>
<circle cx="558.5" cy="230.1" r="3.4" fill="none" stroke="#fff" stroke-opacity="0.92" stroke-width="0.95"/>
<circle cx="93.1" cy="350.5" r="3.4" fill="none" stroke="#fff" stroke-opacity="0.92" stroke-width="0.95"/>
<path d="M154.8 447.4V467.3M150.8 460.5L154.8 467.3L158.8 460.5" fill="none" stroke="#000" stroke-width="2.3" stroke-linecap="round" stroke-linejoin="round"/>
<path d="M247.8 418.7V438.0M243.8 431.2L247.8 438.0L251.8 431.2" fill="none" stroke="#000" stroke-width="2.3" stroke-linecap="round" stroke-linejoin="round"/>
<path d="M383.4 437.6V456.5M379.4 449.7L383.4 456.5L387.4 449.7" fill="none" stroke="#000" stroke-width="2.3" stroke-linecap="round" stroke-linejoin="round"/>
<g shape-rendering="crispEdges">
<rect x="105.50" y="78.95" width="467.40" height="39.45" fill="#8220ed"/>
<rect x="109.21" y="78.95" width="463.69" height="39.45" fill="#731ee2"/>
<rect x="112.92" y="78.95" width="459.98" height="39.45" fill="#641cd7"/>
<rect x="116.63" y="78.95" width="456.27" height="39.45" fill="#5618cd"/>
<rect x="120.34" y="78.95" width="452.56" height="39.45" fill="#4814c3"/>
<rect x="124.05" y="78.95" width="448.85" height="39.45" fill="#3a10b8"/>
<rect x="127.76" y="78.95" width="445.14" height="39.45" fill="#2c0cad"/>
<rect x="131.47" y="78.95" width="441.43" height="39.45" fill="#1e08a2"/>
<rect x="135.18" y="78.95" width="437.72" height="39.45" fill="#120599"/>
<rect x="138.89" y="78.95" width="434.01" height="39.45" fill="#060290"/>
<rect x="142.60" y="78.95" width="430.30" height="39.45" fill="#00008f"/>
<rect x="146.30" y="78.95" width="426.60" height="39.45" fill="#000098"/>
<rect x="150.01" y="78.95" width="422.89" height="39.45" fill="#0000a1"/>
<rect x="153.72" y="78.95" width="419.18" height="39.45" fill="#0000a9"/>
<rect x="157.43" y="78.95" width="415.47" height="39.45" fill="#0000b2"/>
<rect x="161.14" y="78.95" width="411.76" height="39.45" fill="#0000ba"/>
<rect x="164.85" y="78.95" width="408.05" height="39.45" fill="#0000c0"/>
<rect x="168.56" y="78.95" width="404.34" height="39.45" fill="#0000c6"/>
<rect x="172.27" y="78.95" width="400.63" height="39.45" fill="#0000ca"/>
<rect x="175.98" y="78.95" width="396.92" height="39.45" fill="#0406ce"/>
<rect x="179.69" y="78.95" width="393.21" height="39.45" fill="#0b13d1"/>
<rect x="183.40" y="78.95" width="389.50" height="39.45" fill="#131fd3"/>
<rect x="187.11" y="78.95" width="385.79" height="39.45" fill="#1b2cd6"/>
<rect x="190.82" y="78.95" width="382.08" height="39.45" fill="#2339d9"/>
<rect x="194.53" y="78.95" width="378.37" height="39.45" fill="#2c46dc"/>
<rect x="198.24" y="78.95" width="374.66" height="39.45" fill="#3452de"/>
<rect x="201.95" y="78.95" width="370.95" height="39.45" fill="#3c5fe1"/>
<rect x="205.66" y="78.95" width="367.24" height="39.45" fill="#3d63e3"/>
<rect x="209.37" y="78.95" width="363.53" height="39.45" fill="#3d68e5"/>
<rect x="213.08" y="78.95" width="359.82" height="39.45" fill="#3e6ce7"/>
<rect x="216.79" y="78.95" width="356.11" height="39.45" fill="#3b71ea"/>
<rect x="220.50" y="78.95" width="352.40" height="39.45" fill="#3677ee"/>
<rect x="224.20" y="78.95" width="348.70" height="39.45" fill="#317cf2"/>
<rect x="227.91" y="78.95" width="344.99" height="39.45" fill="#2b82f5"/>
<rect x="231.62" y="78.95" width="341.28" height="39.45" fill="#2688f9"/>
<rect x="235.33" y="78.95" width="337.57" height="39.45" fill="#218dfd"/>
<rect x="239.04" y="78.95" width="333.86" height="39.45" fill="#1c93ff"/>
<rect x="242.75" y="78.95" width="330.15" height="39.45" fill="#189aff"/>
<rect x="246.46" y="78.95" width="326.44" height="39.45" fill="#13a1ff"/>
<rect x="250.17" y="78.95" width="322.73" height="39.45" fill="#0fa8ff"/>
<rect x="253.88" y="78.95" width="319.02" height="39.45" fill="#0baeff"/>
<rect x="257.59" y="78.95" width="315.31" height="39.45" fill="#06b5ff"/>
<rect x="261.30" y="78.95" width="311.60" height="39.45" fill="#02bcff"/>
<rect x="265.01" y="78.95" width="307.89" height="39.45" fill="#08c0ff"/>
<rect x="268.72" y="78.95" width="304.18" height="39.45" fill="#17c2fe"/>
<rect x="272.43" y="78.95" width="300.47" height="39.45" fill="#26c3fe"/>
<rect x="276.14" y="78.95" width="296.76" height="39.45" fill="#35c5fd"/>
<rect x="279.85" y="78.95" width="293.05" height="39.45" fill="#44c6fc"/>
<rect x="283.56" y="78.95" width="289.34" height="39.45" fill="#53c8fc"/>
<rect x="287.27" y="78.95" width="285.63" height="39.45" fill="#62cafb"/>
<rect x="290.98" y="78.95" width="281.92" height="39.45" fill="#71ccfb"/>
<rect x="294.69" y="78.95" width="278.21" height="39.45" fill="#80cdfa"/>
<rect x="298.40" y="78.95" width="274.50" height="39.45" fill="#8acffa"/>
<rect x="302.10" y="78.95" width="270.80" height="39.45" fill="#91d2fa"/>
<rect x="305.81" y="78.95" width="267.09" height="39.45" fill="#98d4fa"/>
<rect x="309.52" y="78.95" width="263.38" height="39.45" fill="#9fd6fa"/>
<rect x="313.23" y="78.95" width="259.67" height="39.45" fill="#a6d9fa"/>
<rect x="316.94" y="78.95" width="255.96" height="39.45" fill="#addbfa"/>
<rect x="320.65" y="78.95" width="252.25" height="39.45" fill="#b4ddfa"/>
<rect x="324.36" y="78.95" width="248.54" height="39.45" fill="#bbe0fa"/>
<rect x="328.07" y="78.95" width="244.83" height="39.45" fill="#c1e3fa"/>
<rect x="331.78" y="78.95" width="241.12" height="39.45" fill="#c7e6f9"/>
<rect x="335.49" y="78.95" width="237.41" height="39.45" fill="#cde9f8"/>
<rect x="339.20" y="78.95" width="233.70" height="39.45" fill="#d2edf7"/>
<rect x="342.91" y="78.95" width="229.99" height="39.45" fill="#d8f0f6"/>
<rect x="346.62" y="78.95" width="226.28" height="39.45" fill="#def3f5"/>
<rect x="350.33" y="78.95" width="222.57" height="39.45" fill="#e4f6f2"/>
<rect x="354.04" y="78.95" width="218.86" height="39.45" fill="#e9f8ed"/>
<rect x="357.75" y="78.95" width="215.15" height="39.45" fill="#effae7"/>
<rect x="361.46" y="78.95" width="211.44" height="39.45" fill="#f4fbe2"/>
<rect x="365.17" y="78.95" width="207.73" height="39.45" fill="#fafddc"/>
<rect x="368.88" y="78.95" width="204.02" height="39.45" fill="#ffffd7"/>
<rect x="372.59" y="78.95" width="200.31" height="39.45" fill="#fffcc4"/>
<rect x="376.30" y="78.95" width="196.60" height="39.45" fill="#fff9b1"/>
<rect x="380.00" y="78.95" width="192.90" height="39.45" fill="#fff69e"/>
<rect x="383.71" y="78.95" width="189.19" height="39.45" fill="#fff38b"/>
<rect x="387.42" y="78.95" width="185.48" height="39.45" fill="#fff078"/>
<rect x="391.13" y="78.95" width="181.77" height="39.45" fill="#ffec65"/>
<rect x="394.84" y="78.95" width="178.06" height="39.45" fill="#ffe654"/>
<rect x="398.55" y="78.95" width="174.35" height="39.45" fill="#ffe242"/>
<rect x="402.26" y="78.95" width="170.64" height="39.45" fill="#ffdc31"/>
<rect x="405.97" y="78.95" width="166.93" height="39.45" fill="#ffd726"/>
<rect x="409.68" y="78.95" width="163.22" height="39.45" fill="#ffd121"/>
<rect x="413.39" y="78.95" width="159.51" height="39.45" fill="#ffcb1d"/>
<rect x="417.10" y="78.95" width="155.80" height="39.45" fill="#ffc518"/>
<rect x="420.81" y="78.95" width="152.09" height="39.45" fill="#ffbf14"/>
<rect x="424.52" y="78.95" width="148.38" height="39.45" fill="#ffba10"/>
<rect x="428.23" y="78.95" width="144.67" height="39.45" fill="#ffb40b"/>
<rect x="431.94" y="78.95" width="140.96" height="39.45" fill="#ffae07"/>
<rect x="435.65" y="78.95" width="137.25" height="39.45" fill="#ffa802"/>
<rect x="439.36" y="78.95" width="133.54" height="39.45" fill="#ffa200"/>
<rect x="443.07" y="78.95" width="129.83" height="39.45" fill="#ff9b00"/>
<rect x="446.78" y="78.95" width="126.12" height="39.45" fill="#ff9400"/>
<rect x="450.49" y="78.95" width="122.41" height="39.45" fill="#ff8d00"/>
<rect x="454.20" y="78.95" width="118.70" height="39.45" fill="#ff8600"/>
<rect x="457.90" y="78.95" width="115.00" height="39.45" fill="#ff7f00"/>
<rect x="461.61" y="78.95" width="111.29" height="39.45" fill="#ff7800"/>
<rect x="465.32" y="78.95" width="107.58" height="39.45" fill="#ff7100"/>
<rect x="469.03" y="78.95" width="103.87" height="39.45" fill="#ff6800"/>
<rect x="472.74" y="78.95" width="100.16" height="39.45" fill="#ff5d00"/>
<rect x="476.45" y="78.95" width="96.45" height="39.45" fill="#ff5200"/>
<rect x="480.16" y="78.95" width="92.74" height="39.45" fill="#ff4700"/>
<rect x="483.87" y="78.95" width="89.03" height="39.45" fill="#ff3c00"/>
<rect x="487.58" y="78.95" width="85.32" height="39.45" fill="#fe3100"/>
<rect x="491.29" y="78.95" width="81.61" height="39.45" fill="#fd2600"/>
<rect x="495.00" y="78.95" width="77.90" height="39.45" fill="#fc1b00"/>
<rect x="498.71" y="78.95" width="74.19" height="39.45" fill="#fb1000"/>
<rect x="502.42" y="78.95" width="70.48" height="39.45" fill="#fa0500"/>
<rect x="506.13" y="78.95" width="66.77" height="39.45" fill="#f70000"/>
<rect x="509.84" y="78.95" width="63.06" height="39.45" fill="#f10000"/>
<rect x="513.55" y="78.95" width="59.35" height="39.45" fill="#ec0000"/>
<rect x="517.26" y="78.95" width="55.64" height="39.45" fill="#e60000"/>
<rect x="520.97" y="78.95" width="51.93" height="39.45" fill="#e00000"/>
<rect x="524.68" y="78.95" width="48.22" height="39.45" fill="#db0000"/>
<rect x="528.39" y="78.95" width="44.51" height="39.45" fill="#d50000"/>
<rect x="532.10" y="78.95" width="40.80" height="39.45" fill="#d00202"/>
<rect x="535.80" y="78.95" width="37.10" height="39.45" fill="#ca0506"/>
<rect x="539.51" y="78.95" width="33.39" height="39.45" fill="#c6070a"/>
<rect x="543.22" y="78.95" width="29.68" height="39.45" fill="#c10a0e"/>
<rect x="546.93" y="78.95" width="25.97" height="39.45" fill="#bc0d12"/>
<rect x="550.64" y="78.95" width="22.26" height="39.45" fill="#b71015"/>
<rect x="554.35" y="78.95" width="18.55" height="39.45" fill="#b41318"/>
<rect x="558.06" y="78.95" width="14.84" height="39.45" fill="#b1151a"/>
<rect x="561.77" y="78.95" width="11.13" height="39.45" fill="#ad181d"/>
<rect x="565.48" y="78.95" width="7.42" height="39.45" fill="#aa1a1f"/>
<rect x="569.19" y="78.95" width="3.71" height="39.45" fill="#a71d22"/>
</g>
<rect x="105.50" y="78.95" width="467.40" height="39.45" fill="none" stroke="#000" stroke-opacity="0.55" stroke-width="0.75"/>
<line x1="105.50" x2="105.50" y1="78.95" y2="125.80" stroke="#000" stroke-width="0.75"/>
<text x="105.50" y="145.00" font-size="18.0" text-anchor="middle">0.00</text>
<line x1="179.69" x2="179.69" y1="78.95" y2="125.80" stroke="#000" stroke-width="0.75"/>
<text x="179.69" y="145.00" font-size="18.0" text-anchor="middle">0.02</text>
<line x1="253.88" x2="253.88" y1="78.95" y2="125.80" stroke="#000" stroke-width="0.75"/>
<text x="253.88" y="145.00" font-size="18.0" text-anchor="middle">0.04</text>
<line x1="328.07" x2="328.07" y1="78.95" y2="125.80" stroke="#000" stroke-width="0.75"/>
<text x="328.07" y="145.00" font-size="18.0" text-anchor="middle">0.06</text>
<line x1="402.26" x2="402.26" y1="78.95" y2="125.80" stroke="#000" stroke-width="0.75"/>
<text x="402.26" y="145.00" font-size="18.0" text-anchor="middle">0.08</text>
<line x1="476.45" x2="476.45" y1="78.95" y2="125.80" stroke="#000" stroke-width="0.75"/>
<text x="476.45" y="145.00" font-size="18.0" text-anchor="middle">0.10</text>
<line x1="550.64" x2="550.64" y1="78.95" y2="125.80" stroke="#000" stroke-width="0.75"/>
<text x="550.64" y="145.00" font-size="18.0" text-anchor="middle">0.12</text>
<line x1="105.50" x2="550.64" y1="118.40" y2="118.40" stroke="#000" stroke-width="0.9"/>
<rect x="59.04" y="59.04" width="560.72" height="517.52" fill="none" stroke="#000" stroke-width="0.75"/>
<line x1="59.04" x2="619.76" y1="576.56" y2="576.56" stroke="#000" stroke-width="0.75"/>
<line x1="59.04" x2="59.04" y1="576.56" y2="583.76" stroke="#000" stroke-width="0.75"/>
<line x1="77.13" x2="77.13" y1="576.56" y2="583.76" stroke="#000" stroke-width="0.75"/>
<line x1="95.22" x2="95.22" y1="576.56" y2="583.76" stroke="#000" stroke-width="0.75"/>
<line x1="113.30" x2="113.30" y1="576.56" y2="583.76" stroke="#000" stroke-width="0.75"/>
<line x1="131.39" x2="131.39" y1="576.56" y2="583.76" stroke="#000" stroke-width="0.75"/>
<line x1="149.48" x2="149.48" y1="576.56" y2="583.76" stroke="#000" stroke-width="0.75"/>
<line x1="167.57" x2="167.57" y1="576.56" y2="583.76" stroke="#000" stroke-width="0.75"/>
<line x1="185.65" x2="185.65" y1="576.56" y2="583.76" stroke="#000" stroke-width="0.75"/>
<line x1="203.74" x2="203.74" y1="576.56" y2="583.76" stroke="#000" stroke-width="0.75"/>
<line x1="221.83" x2="221.83" y1="576.56" y2="583.76" stroke="#000" stroke-width="0.75"/>
<line x1="239.92" x2="239.92" y1="576.56" y2="583.76" stroke="#000" stroke-width="0.75"/>
<line x1="258.01" x2="258.01" y1="576.56" y2="583.76" stroke="#000" stroke-width="0.75"/>
<line x1="276.09" x2="276.09" y1="576.56" y2="583.76" stroke="#000" stroke-width="0.75"/>
<line x1="294.18" x2="294.18" y1="576.56" y2="583.76" stroke="#000" stroke-width="0.75"/>
<line x1="312.27" x2="312.27" y1="576.56" y2="583.76" stroke="#000" stroke-width="0.75"/>
<line x1="330.36" x2="330.36" y1="576.56" y2="583.76" stroke="#000" stroke-width="0.75"/>
<line x1="348.44" x2="348.44" y1="576.56" y2="583.76" stroke="#000" stroke-width="0.75"/>
<line x1="366.53" x2="366.53" y1="576.56" y2="583.76" stroke="#000" stroke-width="0.75"/>
<line x1="384.62" x2="384.62" y1="576.56" y2="583.76" stroke="#000" stroke-width="0.75"/>
<line x1="402.71" x2="402.71" y1="576.56" y2="583.76" stroke="#000" stroke-width="0.75"/>
<line x1="420.79" x2="420.79" y1="576.56" y2="583.76" stroke="#000" stroke-width="0.75"/>
<line x1="438.88" x2="438.88" y1="576.56" y2="583.76" stroke="#000" stroke-width="0.75"/>
<line x1="456.97" x2="456.97" y1="576.56" y2="583.76" stroke="#000" stroke-width="0.75"/>
<line x1="475.06" x2="475.06" y1="576.56" y2="583.76" stroke="#000" stroke-width="0.75"/>
<line x1="493.15" x2="493.15" y1="576.56" y2="583.76" stroke="#000" stroke-width="0.75"/>
<line x1="511.23" x2="511.23" y1="576.56" y2="583.76" stroke="#000" stroke-width="0.75"/>
<line x1="529.32" x2="529.32" y1="576.56" y2="583.76" stroke="#000" stroke-width="0.75"/>
<line x1="547.41" x2="547.41" y1="576.56" y2="583.76" stroke="#000" stroke-width="0.75"/>
<line x1="565.50" x2="565.50" y1="576.56" y2="583.76" stroke="#000" stroke-width="0.75"/>
<line x1="583.58" x2="583.58" y1="576.56" y2="583.76" stroke="#000" stroke-width="0.75"/>
<line x1="601.67" x2="601.67" y1="576.56" y2="583.76" stroke="#000" stroke-width="0.75"/>
<line x1="619.76" x2="619.76" y1="576.56" y2="583.76" stroke="#000" stroke-width="0.75"/>
<text x="59.04" y="602.20" font-size="18.0" text-anchor="middle">-70</text>
<text x="113.30" y="602.20" font-size="18.0" text-anchor="middle">-55</text>
<text x="167.57" y="602.20" font-size="18.0" text-anchor="middle">-40</text>
<text x="221.83" y="602.20" font-size="18.0" text-anchor="middle">-25</text>
<text x="276.09" y="602.20" font-size="18.0" text-anchor="middle">-10</text>
<text x="312.27" y="602.20" font-size="18.0" text-anchor="middle">0</text>
<text x="348.44" y="602.20" font-size="18.0" text-anchor="middle">10</text>
<text x="384.62" y="602.20" font-size="18.0" text-anchor="middle">20</text>
<text x="420.79" y="602.20" font-size="18.0" text-anchor="middle">30</text>
<text x="456.97" y="602.20" font-size="18.0" text-anchor="middle">40</text>
<text x="493.15" y="602.20" font-size="18.0" text-anchor="middle">50</text>
<text x="529.32" y="602.20" font-size="18.0" text-anchor="middle">60</text>
<text x="565.50" y="602.20" font-size="18.0" text-anchor="middle">70</text>
<text x="601.67" y="602.20" font-size="18.0" text-anchor="middle">80</text>
<line x1="59.04" x2="59.04" y1="576.56" y2="69.90" stroke="#000" stroke-width="0.75"/>
<line x1="51.84" x2="59.04" y1="576.56" y2="576.56" stroke="#000" stroke-width="0.75"/>
<text transform="translate(42.00,576.56) rotate(-90)" font-size="18.0" text-anchor="middle">260</text>
<line x1="51.84" x2="59.04" y1="504.18" y2="504.18" stroke="#000" stroke-width="0.75"/>
<text transform="translate(42.00,504.18) rotate(-90)" font-size="18.0" text-anchor="middle">280</text>
<line x1="51.84" x2="59.04" y1="431.80" y2="431.80" stroke="#000" stroke-width="0.75"/>
<text transform="translate(42.00,431.80) rotate(-90)" font-size="18.0" text-anchor="middle">300</text>
<line x1="51.84" x2="59.04" y1="359.42" y2="359.42" stroke="#000" stroke-width="0.75"/>
<text transform="translate(42.00,359.42) rotate(-90)" font-size="18.0" text-anchor="middle">320</text>
<line x1="51.84" x2="59.04" y1="287.04" y2="287.04" stroke="#000" stroke-width="0.75"/>
<text transform="translate(42.00,287.04) rotate(-90)" font-size="18.0" text-anchor="middle">340</text>
<line x1="51.84" x2="59.04" y1="214.66" y2="214.66" stroke="#000" stroke-width="0.75"/>
<text transform="translate(42.00,214.66) rotate(-90)" font-size="18.0" text-anchor="middle">360</text>
<line x1="51.84" x2="59.04" y1="142.28" y2="142.28" stroke="#000" stroke-width="0.75"/>
<text transform="translate(42.00,142.28) rotate(-90)" font-size="18.0" text-anchor="middle">380</text>
<line x1="51.84" x2="59.04" y1="69.90" y2="69.90" stroke="#000" stroke-width="0.75"/>
<text transform="translate(42.00,69.90) rotate(-90)" font-size="18.0" text-anchor="middle">400</text>
<text x="339.40" y="35.80" font-size="18.0" font-weight="bold" text-anchor="middle">ATOM2 Southbound OilCombFrac_PALMS</text>
<text x="339.40" y="631.00" font-size="18.0" text-anchor="middle">Latitude (deg N)</text>
<text transform="translate(13.30,317.80) rotate(-90)" font-size="18.0" text-anchor="middle">Theta (C)</text>
<text x="61.8" y="51.6" font-size="10.7">Flts: 2,3,4,5,6</text>
<text x="61.8" y="70.7" font-size="10.7">MMDD: 0129,0201,0203,0205,0210</text>
</svg></body></html>
